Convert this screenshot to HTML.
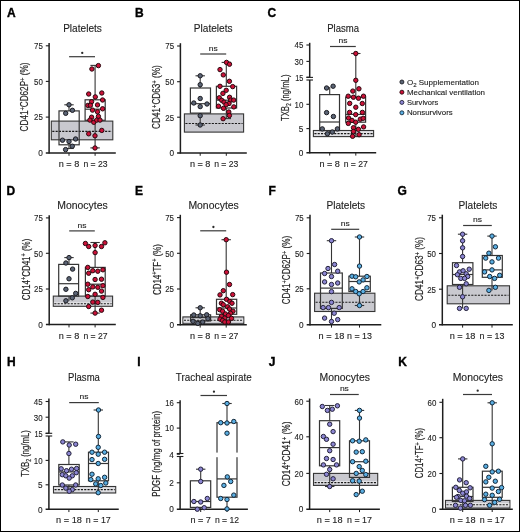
<!DOCTYPE html>
<html><head><meta charset="utf-8"><style>
html,body{margin:0;padding:0;background:#fff;}
svg{display:block;will-change:transform;}
text{font-family:"Liberation Sans", sans-serif;} .t{stroke:#1e1e1e;stroke-width:0.12px;}
</style></head><body>
<svg width="520" height="532" viewBox="0 0 520 532">
<rect x="0" y="0" width="520" height="532" fill="#fff"/>
<rect x="0.5" y="0.5" width="519" height="531" fill="none" stroke="#000" stroke-width="1"/>
<text x="7.1" y="17.2" font-size="12" text-anchor="start" font-weight="bold" fill="#000" stroke="#000" stroke-width="0.35">A</text>
<text class="t" x="82.5" y="31.9" font-size="10" text-anchor="middle" font-weight="normal" textLength="38.7" lengthAdjust="spacingAndGlyphs" fill="#1e1e1e">Platelets</text>
<rect x="51.3" y="121.1" width="61.5" height="18.700000000000017" fill="#c9c9cf" stroke="#353535" stroke-width="1.1"/>
<line x1="52.3" y1="131.4" x2="111.8" y2="131.4" stroke="#1a1a1a" stroke-width="1.1" stroke-dasharray="2.1 1.2"/>
<line x1="69.0" y1="104.8" x2="69.0" y2="110.9" stroke="#353535" stroke-width="1.1"/>
<line x1="69.0" y1="144.8" x2="69.0" y2="148.5" stroke="#353535" stroke-width="1.1"/>
<line x1="64.3" y1="104.8" x2="73.7" y2="104.8" stroke="#353535" stroke-width="1.1"/>
<line x1="64.3" y1="148.5" x2="73.7" y2="148.5" stroke="#353535" stroke-width="1.1"/>
<rect x="59.0" y="110.9" width="20.200000000000003" height="33.900000000000006" fill="none" stroke="#353535" stroke-width="1.2"/>
<line x1="95.1" y1="65.4" x2="95.1" y2="99.8" stroke="#353535" stroke-width="1.1"/>
<line x1="95.1" y1="120.3" x2="95.1" y2="147.9" stroke="#353535" stroke-width="1.1"/>
<line x1="90.39999999999999" y1="65.4" x2="99.8" y2="65.4" stroke="#353535" stroke-width="1.1"/>
<line x1="90.39999999999999" y1="147.9" x2="99.8" y2="147.9" stroke="#353535" stroke-width="1.1"/>
<rect x="85.1" y="99.8" width="20.10000000000001" height="20.5" fill="none" stroke="#353535" stroke-width="1.2"/>
<line x1="85.1" y1="109.2" x2="105.2" y2="109.2" stroke="#353535" stroke-width="1.2"/>
<line x1="49.1" y1="43" x2="49.1" y2="153.6" stroke="#1e1e1e" stroke-width="1.5"/>
<line x1="45.800000000000004" y1="153.0" x2="115.8" y2="153.0" stroke="#1e1e1e" stroke-width="1.5"/>
<line x1="45.800000000000004" y1="45.8" x2="49.1" y2="45.8" stroke="#1e1e1e" stroke-width="1.1"/>
<text class="t" x="42.800000000000004" y="49.099999999999994" font-size="9" text-anchor="end" font-weight="normal" textLength="8.8" lengthAdjust="spacingAndGlyphs" fill="#1e1e1e">75</text>
<line x1="45.800000000000004" y1="81.4" x2="49.1" y2="81.4" stroke="#1e1e1e" stroke-width="1.1"/>
<text class="t" x="42.800000000000004" y="84.7" font-size="9" text-anchor="end" font-weight="normal" textLength="8.8" lengthAdjust="spacingAndGlyphs" fill="#1e1e1e">50</text>
<line x1="45.800000000000004" y1="117.1" x2="49.1" y2="117.1" stroke="#1e1e1e" stroke-width="1.1"/>
<text class="t" x="42.800000000000004" y="120.39999999999999" font-size="9" text-anchor="end" font-weight="normal" textLength="8.8" lengthAdjust="spacingAndGlyphs" fill="#1e1e1e">25</text>
<text class="t" x="42.800000000000004" y="156.10000000000002" font-size="9" text-anchor="end" font-weight="normal" textLength="4.6" lengthAdjust="spacingAndGlyphs" fill="#1e1e1e">0</text>
<line x1="69.0" y1="153.0" x2="69.0" y2="155.8" stroke="#1e1e1e" stroke-width="1.0"/>
<line x1="95.1" y1="153.0" x2="95.1" y2="155.8" stroke="#1e1e1e" stroke-width="1.0"/>
<circle cx="69" cy="104.8" r="2.2" fill="#5b6475" stroke="#1c1c22" stroke-width="1.0"/>
<circle cx="72.4" cy="110.3" r="2.2" fill="#5b6475" stroke="#1c1c22" stroke-width="1.0"/>
<circle cx="65.7" cy="113.3" r="2.2" fill="#5b6475" stroke="#1c1c22" stroke-width="1.0"/>
<circle cx="62.5" cy="140.2" r="2.2" fill="#5b6475" stroke="#1c1c22" stroke-width="1.0"/>
<circle cx="69" cy="141.5" r="2.2" fill="#5b6475" stroke="#1c1c22" stroke-width="1.0"/>
<circle cx="75.6" cy="139" r="2.2" fill="#5b6475" stroke="#1c1c22" stroke-width="1.0"/>
<circle cx="72.3" cy="146.2" r="2.2" fill="#5b6475" stroke="#1c1c22" stroke-width="1.0"/>
<circle cx="65.6" cy="149.6" r="2.2" fill="#5b6475" stroke="#1c1c22" stroke-width="1.0"/>
<circle cx="91.9" cy="69" r="2.2" fill="#cc1138" stroke="#2a0a10" stroke-width="1.0"/>
<circle cx="98.4" cy="65.6" r="2.2" fill="#cc1138" stroke="#2a0a10" stroke-width="1.0"/>
<circle cx="88.7" cy="94" r="2.2" fill="#cc1138" stroke="#2a0a10" stroke-width="1.0"/>
<circle cx="101.8" cy="93" r="2.2" fill="#cc1138" stroke="#2a0a10" stroke-width="1.0"/>
<circle cx="95.3" cy="96.9" r="2.2" fill="#cc1138" stroke="#2a0a10" stroke-width="1.0"/>
<circle cx="102.6" cy="100" r="2.2" fill="#cc1138" stroke="#2a0a10" stroke-width="1.0"/>
<circle cx="91.6" cy="101.7" r="2.2" fill="#cc1138" stroke="#2a0a10" stroke-width="1.0"/>
<circle cx="87.9" cy="105.4" r="2.2" fill="#cc1138" stroke="#2a0a10" stroke-width="1.0"/>
<circle cx="90.4" cy="105.3" r="2.2" fill="#cc1138" stroke="#2a0a10" stroke-width="1.0"/>
<circle cx="97.5" cy="104.9" r="2.2" fill="#cc1138" stroke="#2a0a10" stroke-width="1.0"/>
<circle cx="102.6" cy="108.8" r="2.2" fill="#cc1138" stroke="#2a0a10" stroke-width="1.0"/>
<circle cx="92.5" cy="110.1" r="2.2" fill="#cc1138" stroke="#2a0a10" stroke-width="1.0"/>
<circle cx="97.5" cy="111.8" r="2.2" fill="#cc1138" stroke="#2a0a10" stroke-width="1.0"/>
<circle cx="98.4" cy="116.4" r="2.2" fill="#cc1138" stroke="#2a0a10" stroke-width="1.0"/>
<circle cx="91.6" cy="117.2" r="2.2" fill="#cc1138" stroke="#2a0a10" stroke-width="1.0"/>
<circle cx="89.9" cy="120.1" r="2.2" fill="#cc1138" stroke="#2a0a10" stroke-width="1.0"/>
<circle cx="93.8" cy="122.3" r="2.2" fill="#cc1138" stroke="#2a0a10" stroke-width="1.0"/>
<circle cx="96.7" cy="120.1" r="2.2" fill="#cc1138" stroke="#2a0a10" stroke-width="1.0"/>
<circle cx="100" cy="120.1" r="2.2" fill="#cc1138" stroke="#2a0a10" stroke-width="1.0"/>
<circle cx="101.8" cy="130.4" r="2.2" fill="#cc1138" stroke="#2a0a10" stroke-width="1.0"/>
<circle cx="88.7" cy="133.8" r="2.2" fill="#cc1138" stroke="#2a0a10" stroke-width="1.0"/>
<circle cx="95" cy="135.8" r="2.2" fill="#cc1138" stroke="#2a0a10" stroke-width="1.0"/>
<circle cx="95" cy="148" r="2.2" fill="#cc1138" stroke="#2a0a10" stroke-width="1.0"/>
<line x1="69.1" y1="56.7" x2="95" y2="56.7" stroke="#3a3a3a" stroke-width="1.2"/>
<circle cx="82.25" cy="52.900000000000006" r="1.15" fill="#2a2a2a"/>
<text x="28.0" y="97" font-size="10" text-anchor="middle" font-weight="normal" textLength="68.8" lengthAdjust="spacingAndGlyphs" transform="rotate(-90 28.0 97)" fill="#1e1e1e" stroke="#1e1e1e" stroke-width="0.18">CD41<tspan dy="-3.3" font-size="7">+</tspan><tspan dy="3.3">CD62P</tspan><tspan dy="-3.3" font-size="7">+</tspan><tspan dy="3.3"> (%)</tspan></text>
<text class="t" x="69.0" y="166.9" font-size="8.6" text-anchor="middle" font-weight="normal" textLength="20.5" lengthAdjust="spacingAndGlyphs" fill="#1e1e1e">n = 8</text>
<text class="t" x="95.5" y="166.9" font-size="8.6" text-anchor="middle" font-weight="normal" textLength="24.2" lengthAdjust="spacingAndGlyphs" fill="#1e1e1e">n = 23</text>
<text x="134.9" y="17.2" font-size="12" text-anchor="start" font-weight="bold" fill="#000" stroke="#000" stroke-width="0.35">B</text>
<text class="t" x="213.2" y="32" font-size="10" text-anchor="middle" font-weight="normal" textLength="38.7" lengthAdjust="spacingAndGlyphs" fill="#1e1e1e">Platelets</text>
<rect x="184.4" y="113.9" width="59.19999999999999" height="18.19999999999999" fill="#c9c9cf" stroke="#353535" stroke-width="1.1"/>
<line x1="185.4" y1="123.5" x2="242.6" y2="123.5" stroke="#1a1a1a" stroke-width="1.1" stroke-dasharray="2.1 1.2"/>
<line x1="200.2" y1="75.8" x2="200.2" y2="88" stroke="#353535" stroke-width="1.1"/>
<line x1="200.2" y1="113.1" x2="200.2" y2="125" stroke="#353535" stroke-width="1.1"/>
<line x1="195.5" y1="75.8" x2="204.89999999999998" y2="75.8" stroke="#353535" stroke-width="1.1"/>
<line x1="195.5" y1="125" x2="204.89999999999998" y2="125" stroke="#353535" stroke-width="1.1"/>
<rect x="190.4" y="88" width="20.099999999999994" height="25.099999999999994" fill="none" stroke="#353535" stroke-width="1.2"/>
<line x1="190.4" y1="103.7" x2="210.5" y2="103.7" stroke="#353535" stroke-width="1.2"/>
<line x1="226.3" y1="62.4" x2="226.3" y2="86.3" stroke="#353535" stroke-width="1.1"/>
<line x1="226.3" y1="108" x2="226.3" y2="118.6" stroke="#353535" stroke-width="1.1"/>
<line x1="221.60000000000002" y1="62.4" x2="231.0" y2="62.4" stroke="#353535" stroke-width="1.1"/>
<line x1="221.60000000000002" y1="118.6" x2="231.0" y2="118.6" stroke="#353535" stroke-width="1.1"/>
<rect x="216.4" y="86.3" width="20.19999999999999" height="21.700000000000003" fill="none" stroke="#353535" stroke-width="1.2"/>
<line x1="216.4" y1="100.2" x2="236.6" y2="100.2" stroke="#353535" stroke-width="1.2"/>
<line x1="180.4" y1="43.2" x2="180.4" y2="153.6" stroke="#1e1e1e" stroke-width="1.5"/>
<line x1="177.1" y1="153.0" x2="246.8" y2="153.0" stroke="#1e1e1e" stroke-width="1.5"/>
<line x1="177.1" y1="46" x2="180.4" y2="46" stroke="#1e1e1e" stroke-width="1.1"/>
<text class="t" x="174.1" y="49.3" font-size="9" text-anchor="end" font-weight="normal" textLength="8.8" lengthAdjust="spacingAndGlyphs" fill="#1e1e1e">75</text>
<line x1="177.1" y1="81.7" x2="180.4" y2="81.7" stroke="#1e1e1e" stroke-width="1.1"/>
<text class="t" x="174.1" y="85.0" font-size="9" text-anchor="end" font-weight="normal" textLength="8.8" lengthAdjust="spacingAndGlyphs" fill="#1e1e1e">50</text>
<line x1="177.1" y1="117.2" x2="180.4" y2="117.2" stroke="#1e1e1e" stroke-width="1.1"/>
<text class="t" x="174.1" y="120.5" font-size="9" text-anchor="end" font-weight="normal" textLength="8.8" lengthAdjust="spacingAndGlyphs" fill="#1e1e1e">25</text>
<text class="t" x="174.1" y="156.20000000000002" font-size="9" text-anchor="end" font-weight="normal" textLength="4.6" lengthAdjust="spacingAndGlyphs" fill="#1e1e1e">0</text>
<line x1="200.2" y1="153.0" x2="200.2" y2="155.8" stroke="#1e1e1e" stroke-width="1.0"/>
<line x1="226.3" y1="153.0" x2="226.3" y2="155.8" stroke="#1e1e1e" stroke-width="1.0"/>
<circle cx="200.2" cy="75.8" r="2.2" fill="#5b6475" stroke="#1c1c22" stroke-width="1.0"/>
<circle cx="200.2" cy="84.7" r="2.2" fill="#5b6475" stroke="#1c1c22" stroke-width="1.0"/>
<circle cx="200.2" cy="98.5" r="2.2" fill="#5b6475" stroke="#1c1c22" stroke-width="1.0"/>
<circle cx="193.8" cy="103" r="2.2" fill="#5b6475" stroke="#1c1c22" stroke-width="1.0"/>
<circle cx="200.2" cy="106.6" r="2.2" fill="#5b6475" stroke="#1c1c22" stroke-width="1.0"/>
<circle cx="207" cy="104" r="2.2" fill="#5b6475" stroke="#1c1c22" stroke-width="1.0"/>
<circle cx="200.2" cy="115.7" r="2.2" fill="#5b6475" stroke="#1c1c22" stroke-width="1.0"/>
<circle cx="200.2" cy="125" r="2.2" fill="#5b6475" stroke="#1c1c22" stroke-width="1.0"/>
<circle cx="226.5" cy="62.4" r="2.2" fill="#cc1138" stroke="#2a0a10" stroke-width="1.0"/>
<circle cx="229.5" cy="64.2" r="2.2" fill="#cc1138" stroke="#2a0a10" stroke-width="1.0"/>
<circle cx="220" cy="69.6" r="2.2" fill="#cc1138" stroke="#2a0a10" stroke-width="1.0"/>
<circle cx="223.3" cy="74.9" r="2.2" fill="#cc1138" stroke="#2a0a10" stroke-width="1.0"/>
<circle cx="229.4" cy="81.3" r="2.2" fill="#cc1138" stroke="#2a0a10" stroke-width="1.0"/>
<circle cx="220" cy="86.3" r="2.2" fill="#cc1138" stroke="#2a0a10" stroke-width="1.0"/>
<circle cx="232.7" cy="86.6" r="2.2" fill="#cc1138" stroke="#2a0a10" stroke-width="1.0"/>
<circle cx="226.2" cy="90.3" r="2.2" fill="#cc1138" stroke="#2a0a10" stroke-width="1.0"/>
<circle cx="222.9" cy="93.4" r="2.2" fill="#cc1138" stroke="#2a0a10" stroke-width="1.0"/>
<circle cx="219.3" cy="97.8" r="2.2" fill="#cc1138" stroke="#2a0a10" stroke-width="1.0"/>
<circle cx="229.6" cy="97.3" r="2.2" fill="#cc1138" stroke="#2a0a10" stroke-width="1.0"/>
<circle cx="221.7" cy="100.3" r="2.2" fill="#cc1138" stroke="#2a0a10" stroke-width="1.0"/>
<circle cx="230.7" cy="100.1" r="2.2" fill="#cc1138" stroke="#2a0a10" stroke-width="1.0"/>
<circle cx="233.7" cy="100.1" r="2.2" fill="#cc1138" stroke="#2a0a10" stroke-width="1.0"/>
<circle cx="224" cy="102.1" r="2.2" fill="#cc1138" stroke="#2a0a10" stroke-width="1.0"/>
<circle cx="229" cy="103.5" r="2.2" fill="#cc1138" stroke="#2a0a10" stroke-width="1.0"/>
<circle cx="226.1" cy="104.7" r="2.2" fill="#cc1138" stroke="#2a0a10" stroke-width="1.0"/>
<circle cx="218.5" cy="106.2" r="2.2" fill="#cc1138" stroke="#2a0a10" stroke-width="1.0"/>
<circle cx="223.5" cy="108.3" r="2.2" fill="#cc1138" stroke="#2a0a10" stroke-width="1.0"/>
<circle cx="233.8" cy="106.9" r="2.2" fill="#cc1138" stroke="#2a0a10" stroke-width="1.0"/>
<circle cx="228.8" cy="112" r="2.2" fill="#cc1138" stroke="#2a0a10" stroke-width="1.0"/>
<circle cx="229.4" cy="115.5" r="2.2" fill="#cc1138" stroke="#2a0a10" stroke-width="1.0"/>
<circle cx="223.1" cy="118.7" r="2.2" fill="#cc1138" stroke="#2a0a10" stroke-width="1.0"/>
<line x1="200.2" y1="54" x2="226.2" y2="54" stroke="#3a3a3a" stroke-width="1.2"/>
<text class="t" x="213.2" y="50.8" font-size="8" text-anchor="middle" font-weight="normal" textLength="9" lengthAdjust="spacingAndGlyphs" fill="#1e1e1e">ns</text>
<text x="160.0" y="97.1" font-size="10" text-anchor="middle" font-weight="normal" textLength="63.6" lengthAdjust="spacingAndGlyphs" transform="rotate(-90 160.0 97.1)" fill="#1e1e1e" stroke="#1e1e1e" stroke-width="0.18">CD41<tspan dy="-3.3" font-size="7">+</tspan><tspan dy="3.3">CD63</tspan><tspan dy="-3.3" font-size="7">+</tspan><tspan dy="3.3"> (%)</tspan></text>
<text class="t" x="200.2" y="166.9" font-size="8.6" text-anchor="middle" font-weight="normal" textLength="20.5" lengthAdjust="spacingAndGlyphs" fill="#1e1e1e">n = 8</text>
<text class="t" x="226.3" y="166.9" font-size="8.6" text-anchor="middle" font-weight="normal" textLength="24.2" lengthAdjust="spacingAndGlyphs" fill="#1e1e1e">n = 23</text>
<text x="267.5" y="17.2" font-size="12" text-anchor="start" font-weight="bold" fill="#000" stroke="#000" stroke-width="0.35">C</text>
<text class="t" x="343.1" y="32" font-size="10" text-anchor="middle" font-weight="normal" textLength="31.8" lengthAdjust="spacingAndGlyphs" fill="#1e1e1e">Plasma</text>
<rect x="313.4" y="130.5" width="60.200000000000045" height="6.099999999999994" fill="#c9c9cf" stroke="#353535" stroke-width="1.1"/>
<rect x="314.0" y="131.4" width="59.00000000000004" height="4.4" fill="#e3e3e6"/>
<line x1="314.4" y1="133.6" x2="372.6" y2="133.6" stroke="#1a1a1a" stroke-width="1.1" stroke-dasharray="2.1 1.2"/>
<line x1="329.7" y1="87" x2="329.7" y2="94.6" stroke="#353535" stroke-width="1.1"/>
<line x1="329.7" y1="130.6" x2="329.7" y2="134" stroke="#353535" stroke-width="1.1"/>
<rect x="319.7" y="94.6" width="19.80000000000001" height="36.0" fill="none" stroke="#353535" stroke-width="1.2"/>
<line x1="319.7" y1="122" x2="339.5" y2="122" stroke="#353535" stroke-width="1.2"/>
<line x1="355.8" y1="53.5" x2="355.8" y2="97.2" stroke="#353535" stroke-width="1.1"/>
<line x1="355.8" y1="122.2" x2="355.8" y2="136.5" stroke="#353535" stroke-width="1.1"/>
<line x1="351.1" y1="53.5" x2="360.5" y2="53.5" stroke="#353535" stroke-width="1.1"/>
<line x1="351.1" y1="136.5" x2="360.5" y2="136.5" stroke="#353535" stroke-width="1.1"/>
<rect x="345.7" y="97.2" width="19.900000000000034" height="25.0" fill="none" stroke="#353535" stroke-width="1.2"/>
<line x1="345.7" y1="114.4" x2="365.6" y2="114.4" stroke="#353535" stroke-width="1.2"/>
<line x1="309.7" y1="42.8" x2="309.7" y2="77.4" stroke="#1e1e1e" stroke-width="1.5"/>
<line x1="309.7" y1="80" x2="309.7" y2="153.4" stroke="#1e1e1e" stroke-width="1.5"/>
<line x1="306.4" y1="77.4" x2="313.0" y2="77.4" stroke="#1e1e1e" stroke-width="1.1"/>
<line x1="306.4" y1="80" x2="313.0" y2="80" stroke="#1e1e1e" stroke-width="1.1"/>
<line x1="306.4" y1="152.8" x2="376.2" y2="152.8" stroke="#1e1e1e" stroke-width="1.5"/>
<line x1="306.4" y1="45" x2="309.7" y2="45" stroke="#1e1e1e" stroke-width="1.1"/>
<text class="t" x="303.4" y="48.3" font-size="9" text-anchor="end" font-weight="normal" textLength="8.8" lengthAdjust="spacingAndGlyphs" fill="#1e1e1e">45</text>
<line x1="306.4" y1="61.4" x2="309.7" y2="61.4" stroke="#1e1e1e" stroke-width="1.1"/>
<text class="t" x="303.4" y="64.7" font-size="9" text-anchor="end" font-weight="normal" textLength="8.8" lengthAdjust="spacingAndGlyphs" fill="#1e1e1e">30</text>
<line x1="306.4" y1="77.2" x2="309.7" y2="77.2" stroke="#1e1e1e" stroke-width="1.1"/>
<text class="t" x="303.4" y="80.5" font-size="9" text-anchor="end" font-weight="normal" textLength="8.2" lengthAdjust="spacingAndGlyphs" fill="#1e1e1e">15</text>
<line x1="306.4" y1="104.3" x2="309.7" y2="104.3" stroke="#1e1e1e" stroke-width="1.1"/>
<text class="t" x="303.4" y="107.6" font-size="9" text-anchor="end" font-weight="normal" textLength="8.8" lengthAdjust="spacingAndGlyphs" fill="#1e1e1e">10</text>
<line x1="306.4" y1="128.6" x2="309.7" y2="128.6" stroke="#1e1e1e" stroke-width="1.1"/>
<text class="t" x="303.4" y="131.9" font-size="9" text-anchor="end" font-weight="normal" textLength="4.6" lengthAdjust="spacingAndGlyphs" fill="#1e1e1e">5</text>
<text class="t" x="303.4" y="156.10000000000002" font-size="9" text-anchor="end" font-weight="normal" textLength="4.6" lengthAdjust="spacingAndGlyphs" fill="#1e1e1e">0</text>
<line x1="329.7" y1="152.8" x2="329.7" y2="155.60000000000002" stroke="#1e1e1e" stroke-width="1.0"/>
<line x1="355.8" y1="152.8" x2="355.8" y2="155.60000000000002" stroke="#1e1e1e" stroke-width="1.0"/>
<circle cx="326.6" cy="88" r="2.2" fill="#5b6475" stroke="#1c1c22" stroke-width="1.0"/>
<circle cx="333.1" cy="86.2" r="2.2" fill="#5b6475" stroke="#1c1c22" stroke-width="1.0"/>
<circle cx="326.6" cy="112.6" r="2.2" fill="#5b6475" stroke="#1c1c22" stroke-width="1.0"/>
<circle cx="333.4" cy="116.5" r="2.2" fill="#5b6475" stroke="#1c1c22" stroke-width="1.0"/>
<circle cx="322.3" cy="128.9" r="2.2" fill="#5b6475" stroke="#1c1c22" stroke-width="1.0"/>
<circle cx="337.4" cy="128.9" r="2.2" fill="#5b6475" stroke="#1c1c22" stroke-width="1.0"/>
<circle cx="332.3" cy="132" r="2.2" fill="#5b6475" stroke="#1c1c22" stroke-width="1.0"/>
<circle cx="327.4" cy="133.8" r="2.2" fill="#5b6475" stroke="#1c1c22" stroke-width="1.0"/>
<circle cx="355.8" cy="53.5" r="2.2" fill="#cc1138" stroke="#2a0a10" stroke-width="1.0"/>
<circle cx="355.8" cy="80.3" r="2.2" fill="#cc1138" stroke="#2a0a10" stroke-width="1.0"/>
<circle cx="358.9" cy="88.8" r="2.2" fill="#cc1138" stroke="#2a0a10" stroke-width="1.0"/>
<circle cx="352.8" cy="91.1" r="2.2" fill="#cc1138" stroke="#2a0a10" stroke-width="1.0"/>
<circle cx="348.2" cy="96.2" r="2.2" fill="#cc1138" stroke="#2a0a10" stroke-width="1.0"/>
<circle cx="353.4" cy="97.2" r="2.2" fill="#cc1138" stroke="#2a0a10" stroke-width="1.0"/>
<circle cx="358.5" cy="98.2" r="2.2" fill="#cc1138" stroke="#2a0a10" stroke-width="1.0"/>
<circle cx="363.5" cy="96.2" r="2.2" fill="#cc1138" stroke="#2a0a10" stroke-width="1.0"/>
<circle cx="349.7" cy="103.4" r="2.2" fill="#cc1138" stroke="#2a0a10" stroke-width="1.0"/>
<circle cx="362.3" cy="103.5" r="2.2" fill="#cc1138" stroke="#2a0a10" stroke-width="1.0"/>
<circle cx="355.8" cy="107.2" r="2.2" fill="#cc1138" stroke="#2a0a10" stroke-width="1.0"/>
<circle cx="349.6" cy="112.4" r="2.2" fill="#cc1138" stroke="#2a0a10" stroke-width="1.0"/>
<circle cx="355.7" cy="114.6" r="2.2" fill="#cc1138" stroke="#2a0a10" stroke-width="1.0"/>
<circle cx="362.4" cy="112.4" r="2.2" fill="#cc1138" stroke="#2a0a10" stroke-width="1.0"/>
<circle cx="348.6" cy="118" r="2.2" fill="#cc1138" stroke="#2a0a10" stroke-width="1.0"/>
<circle cx="352" cy="120.4" r="2.2" fill="#cc1138" stroke="#2a0a10" stroke-width="1.0"/>
<circle cx="355.7" cy="122.2" r="2.2" fill="#cc1138" stroke="#2a0a10" stroke-width="1.0"/>
<circle cx="360.3" cy="119.2" r="2.2" fill="#cc1138" stroke="#2a0a10" stroke-width="1.0"/>
<circle cx="363.2" cy="118.3" r="2.2" fill="#cc1138" stroke="#2a0a10" stroke-width="1.0"/>
<circle cx="348.3" cy="123.4" r="2.2" fill="#cc1138" stroke="#2a0a10" stroke-width="1.0"/>
<circle cx="353.5" cy="127.7" r="2.2" fill="#cc1138" stroke="#2a0a10" stroke-width="1.0"/>
<circle cx="358.4" cy="129.3" r="2.2" fill="#cc1138" stroke="#2a0a10" stroke-width="1.0"/>
<circle cx="363.6" cy="126.9" r="2.2" fill="#cc1138" stroke="#2a0a10" stroke-width="1.0"/>
<circle cx="352.6" cy="136.3" r="2.2" fill="#cc1138" stroke="#2a0a10" stroke-width="1.0"/>
<circle cx="359.1" cy="134.7" r="2.2" fill="#cc1138" stroke="#2a0a10" stroke-width="1.0"/>
<circle cx="353.4" cy="131.5" r="2.2" fill="#cc1138" stroke="#2a0a10" stroke-width="1.0"/>
<line x1="330" y1="46.5" x2="355.8" y2="46.5" stroke="#3a3a3a" stroke-width="1.2"/>
<text class="t" x="342.9" y="43.3" font-size="8" text-anchor="middle" font-weight="normal" textLength="9" lengthAdjust="spacingAndGlyphs" fill="#1e1e1e">ns</text>
<text x="288.6" y="97.8" font-size="10" text-anchor="middle" font-weight="normal" textLength="46.5" lengthAdjust="spacingAndGlyphs" transform="rotate(-90 288.6 97.8)" fill="#1e1e1e" stroke="#1e1e1e" stroke-width="0.18">TXB<tspan dy="2.5" font-size="6.5">2</tspan><tspan dy="-2.5"> (ng/mL)</tspan></text>
<text class="t" x="329.7" y="166.9" font-size="8.6" text-anchor="middle" font-weight="normal" textLength="20.5" lengthAdjust="spacingAndGlyphs" fill="#1e1e1e">n = 8</text>
<text class="t" x="355.8" y="166.9" font-size="8.6" text-anchor="middle" font-weight="normal" textLength="24.2" lengthAdjust="spacingAndGlyphs" fill="#1e1e1e">n = 27</text>
<text x="6.45" y="194.7" font-size="12" text-anchor="start" font-weight="bold" fill="#000" stroke="#000" stroke-width="0.35">D</text>
<text class="t" x="82.5" y="209.1" font-size="10" text-anchor="middle" font-weight="normal" textLength="50.4" lengthAdjust="spacingAndGlyphs" fill="#1e1e1e">Monocytes</text>
<rect x="53.3" y="296.1" width="59.3" height="10.199999999999989" fill="#c9c9cf" stroke="#353535" stroke-width="1.1"/>
<rect x="53.9" y="302.2" width="58.099999999999994" height="3.0" fill="#e3e3e6"/>
<line x1="54.3" y1="303.7" x2="111.6" y2="303.7" stroke="#1a1a1a" stroke-width="1.1" stroke-dasharray="2.1 1.2"/>
<line x1="69.0" y1="257.6" x2="69.0" y2="264.4" stroke="#353535" stroke-width="1.1"/>
<line x1="69.0" y1="296.1" x2="69.0" y2="300.8" stroke="#353535" stroke-width="1.1"/>
<line x1="64.3" y1="257.6" x2="73.7" y2="257.6" stroke="#353535" stroke-width="1.1"/>
<rect x="58.7" y="264.4" width="19.89999999999999" height="31.700000000000045" fill="none" stroke="#353535" stroke-width="1.2"/>
<line x1="58.7" y1="283.7" x2="78.6" y2="283.7" stroke="#353535" stroke-width="1.2"/>
<line x1="95.1" y1="242.5" x2="95.1" y2="267.4" stroke="#353535" stroke-width="1.1"/>
<line x1="95.1" y1="296.1" x2="95.1" y2="313.1" stroke="#353535" stroke-width="1.1"/>
<line x1="90.39999999999999" y1="242.5" x2="99.8" y2="242.5" stroke="#353535" stroke-width="1.1"/>
<line x1="90.39999999999999" y1="313.1" x2="99.8" y2="313.1" stroke="#353535" stroke-width="1.1"/>
<rect x="85.4" y="267.4" width="19.799999999999997" height="28.700000000000045" fill="none" stroke="#353535" stroke-width="1.2"/>
<line x1="85.4" y1="284.2" x2="105.2" y2="284.2" stroke="#353535" stroke-width="1.2"/>
<line x1="49.2" y1="215.2" x2="49.2" y2="325.20000000000005" stroke="#1e1e1e" stroke-width="1.5"/>
<line x1="45.900000000000006" y1="324.6" x2="115.8" y2="324.6" stroke="#1e1e1e" stroke-width="1.5"/>
<line x1="45.900000000000006" y1="217.9" x2="49.2" y2="217.9" stroke="#1e1e1e" stroke-width="1.1"/>
<text class="t" x="42.900000000000006" y="221.20000000000002" font-size="9" text-anchor="end" font-weight="normal" textLength="8.8" lengthAdjust="spacingAndGlyphs" fill="#1e1e1e">75</text>
<line x1="45.900000000000006" y1="253.3" x2="49.2" y2="253.3" stroke="#1e1e1e" stroke-width="1.1"/>
<text class="t" x="42.900000000000006" y="256.6" font-size="9" text-anchor="end" font-weight="normal" textLength="8.8" lengthAdjust="spacingAndGlyphs" fill="#1e1e1e">50</text>
<line x1="45.900000000000006" y1="289.0" x2="49.2" y2="289.0" stroke="#1e1e1e" stroke-width="1.1"/>
<text class="t" x="42.900000000000006" y="292.3" font-size="9" text-anchor="end" font-weight="normal" textLength="8.8" lengthAdjust="spacingAndGlyphs" fill="#1e1e1e">25</text>
<text class="t" x="42.900000000000006" y="327.90000000000003" font-size="9" text-anchor="end" font-weight="normal" textLength="4.6" lengthAdjust="spacingAndGlyphs" fill="#1e1e1e">0</text>
<line x1="69.0" y1="324.6" x2="69.0" y2="327.40000000000003" stroke="#1e1e1e" stroke-width="1.0"/>
<line x1="95.1" y1="324.6" x2="95.1" y2="327.40000000000003" stroke="#1e1e1e" stroke-width="1.0"/>
<circle cx="69" cy="257.6" r="2.2" fill="#5b6475" stroke="#1c1c22" stroke-width="1.0"/>
<circle cx="65.9" cy="263" r="2.2" fill="#5b6475" stroke="#1c1c22" stroke-width="1.0"/>
<circle cx="72.6" cy="269.1" r="2.2" fill="#5b6475" stroke="#1c1c22" stroke-width="1.0"/>
<circle cx="69" cy="278.8" r="2.2" fill="#5b6475" stroke="#1c1c22" stroke-width="1.0"/>
<circle cx="65.9" cy="289.3" r="2.2" fill="#5b6475" stroke="#1c1c22" stroke-width="1.0"/>
<circle cx="75.7" cy="293.4" r="2.2" fill="#5b6475" stroke="#1c1c22" stroke-width="1.0"/>
<circle cx="72.3" cy="297.8" r="2.2" fill="#5b6475" stroke="#1c1c22" stroke-width="1.0"/>
<circle cx="65.9" cy="300.8" r="2.2" fill="#5b6475" stroke="#1c1c22" stroke-width="1.0"/>
<circle cx="85.4" cy="243.5" r="2.2" fill="#cc1138" stroke="#2a0a10" stroke-width="1.0"/>
<circle cx="88.7" cy="246.5" r="2.2" fill="#cc1138" stroke="#2a0a10" stroke-width="1.0"/>
<circle cx="95.1" cy="245.5" r="2.2" fill="#cc1138" stroke="#2a0a10" stroke-width="1.0"/>
<circle cx="101.5" cy="246.5" r="2.2" fill="#cc1138" stroke="#2a0a10" stroke-width="1.0"/>
<circle cx="104.9" cy="242.8" r="2.2" fill="#cc1138" stroke="#2a0a10" stroke-width="1.0"/>
<circle cx="95.1" cy="252.6" r="2.2" fill="#cc1138" stroke="#2a0a10" stroke-width="1.0"/>
<circle cx="87.8" cy="267.4" r="2.2" fill="#cc1138" stroke="#2a0a10" stroke-width="1.0"/>
<circle cx="88.7" cy="273.2" r="2.2" fill="#cc1138" stroke="#2a0a10" stroke-width="1.0"/>
<circle cx="92.8" cy="270.7" r="2.2" fill="#cc1138" stroke="#2a0a10" stroke-width="1.0"/>
<circle cx="97.8" cy="271.2" r="2.2" fill="#cc1138" stroke="#2a0a10" stroke-width="1.0"/>
<circle cx="102.9" cy="269.8" r="2.2" fill="#cc1138" stroke="#2a0a10" stroke-width="1.0"/>
<circle cx="95.1" cy="279.5" r="2.2" fill="#cc1138" stroke="#2a0a10" stroke-width="1.0"/>
<circle cx="101.5" cy="279.2" r="2.2" fill="#cc1138" stroke="#2a0a10" stroke-width="1.0"/>
<circle cx="87.8" cy="284.2" r="2.2" fill="#cc1138" stroke="#2a0a10" stroke-width="1.0"/>
<circle cx="92.8" cy="286.9" r="2.2" fill="#cc1138" stroke="#2a0a10" stroke-width="1.0"/>
<circle cx="97.8" cy="287.3" r="2.2" fill="#cc1138" stroke="#2a0a10" stroke-width="1.0"/>
<circle cx="102.9" cy="285.7" r="2.2" fill="#cc1138" stroke="#2a0a10" stroke-width="1.0"/>
<circle cx="88.7" cy="289.7" r="2.2" fill="#cc1138" stroke="#2a0a10" stroke-width="1.0"/>
<circle cx="101.5" cy="291.1" r="2.2" fill="#cc1138" stroke="#2a0a10" stroke-width="1.0"/>
<circle cx="95.1" cy="294.3" r="2.2" fill="#cc1138" stroke="#2a0a10" stroke-width="1.0"/>
<circle cx="87.8" cy="296.5" r="2.2" fill="#cc1138" stroke="#2a0a10" stroke-width="1.0"/>
<circle cx="102.9" cy="297.4" r="2.2" fill="#cc1138" stroke="#2a0a10" stroke-width="1.0"/>
<circle cx="92.8" cy="302.1" r="2.2" fill="#cc1138" stroke="#2a0a10" stroke-width="1.0"/>
<circle cx="97.8" cy="302.4" r="2.2" fill="#cc1138" stroke="#2a0a10" stroke-width="1.0"/>
<circle cx="88.7" cy="306.5" r="2.2" fill="#cc1138" stroke="#2a0a10" stroke-width="1.0"/>
<circle cx="101.5" cy="310.2" r="2.2" fill="#cc1138" stroke="#2a0a10" stroke-width="1.0"/>
<circle cx="95.1" cy="313.1" r="2.2" fill="#cc1138" stroke="#2a0a10" stroke-width="1.0"/>
<line x1="69.2" y1="230.9" x2="94.8" y2="230.9" stroke="#3a3a3a" stroke-width="1.2"/>
<text class="t" x="82.0" y="227.70000000000002" font-size="8" text-anchor="middle" font-weight="normal" textLength="9" lengthAdjust="spacingAndGlyphs" fill="#1e1e1e">ns</text>
<text x="29.7" y="269.5" font-size="10" text-anchor="middle" font-weight="normal" textLength="61.7" lengthAdjust="spacingAndGlyphs" transform="rotate(-90 29.7 269.5)" fill="#1e1e1e" stroke="#1e1e1e" stroke-width="0.18">CD14<tspan dy="-3.3" font-size="7">+</tspan><tspan dy="3.3">CD41</tspan><tspan dy="-3.3" font-size="7">+</tspan><tspan dy="3.3"> (%)</tspan></text>
<text class="t" x="69.0" y="338.8" font-size="8.6" text-anchor="middle" font-weight="normal" textLength="20.5" lengthAdjust="spacingAndGlyphs" fill="#1e1e1e">n = 8</text>
<text class="t" x="95.5" y="338.8" font-size="8.6" text-anchor="middle" font-weight="normal" textLength="24.2" lengthAdjust="spacingAndGlyphs" fill="#1e1e1e">n = 27</text>
<text x="135.0" y="194.7" font-size="12" text-anchor="start" font-weight="bold" fill="#000" stroke="#000" stroke-width="0.35">E</text>
<text class="t" x="213.6" y="209.1" font-size="10" text-anchor="middle" font-weight="normal" textLength="50.4" lengthAdjust="spacingAndGlyphs" fill="#1e1e1e">Monocytes</text>
<rect x="182.9" y="316.9" width="60.900000000000006" height="6.900000000000034" fill="#c9c9cf" stroke="#353535" stroke-width="1.1"/>
<rect x="183.5" y="318.59999999999997" width="59.7" height="3.2" fill="#e3e3e6"/>
<line x1="183.9" y1="320.2" x2="242.8" y2="320.2" stroke="#1a1a1a" stroke-width="1.1" stroke-dasharray="2.1 1.2"/>
<line x1="200.2" y1="307.8" x2="200.2" y2="314.8" stroke="#353535" stroke-width="1.1"/>
<line x1="200.2" y1="321.0" x2="200.2" y2="322.5" stroke="#353535" stroke-width="1.1"/>
<line x1="195.5" y1="307.8" x2="204.89999999999998" y2="307.8" stroke="#353535" stroke-width="1.1"/>
<rect x="190.6" y="314.8" width="20.0" height="6.199999999999989" fill="none" stroke="#353535" stroke-width="1.2"/>
<line x1="190.6" y1="317.6" x2="210.6" y2="317.6" stroke="#353535" stroke-width="1.2"/>
<line x1="226.2" y1="239.7" x2="226.2" y2="299.3" stroke="#353535" stroke-width="1.1"/>
<line x1="226.2" y1="314.3" x2="226.2" y2="322" stroke="#353535" stroke-width="1.1"/>
<line x1="221.5" y1="239.7" x2="230.89999999999998" y2="239.7" stroke="#353535" stroke-width="1.1"/>
<rect x="216.5" y="299.3" width="20.19999999999999" height="15.0" fill="none" stroke="#353535" stroke-width="1.2"/>
<line x1="216.5" y1="308.0" x2="236.7" y2="308.0" stroke="#353535" stroke-width="1.2"/>
<line x1="180.3" y1="214.8" x2="180.3" y2="325.40000000000003" stroke="#1e1e1e" stroke-width="1.5"/>
<line x1="177.0" y1="324.8" x2="246.8" y2="324.8" stroke="#1e1e1e" stroke-width="1.5"/>
<line x1="177.0" y1="217.6" x2="180.3" y2="217.6" stroke="#1e1e1e" stroke-width="1.1"/>
<text class="t" x="174.0" y="220.9" font-size="9" text-anchor="end" font-weight="normal" textLength="8.8" lengthAdjust="spacingAndGlyphs" fill="#1e1e1e">75</text>
<line x1="177.0" y1="253.3" x2="180.3" y2="253.3" stroke="#1e1e1e" stroke-width="1.1"/>
<text class="t" x="174.0" y="256.6" font-size="9" text-anchor="end" font-weight="normal" textLength="8.8" lengthAdjust="spacingAndGlyphs" fill="#1e1e1e">50</text>
<line x1="177.0" y1="289.0" x2="180.3" y2="289.0" stroke="#1e1e1e" stroke-width="1.1"/>
<text class="t" x="174.0" y="292.3" font-size="9" text-anchor="end" font-weight="normal" textLength="8.8" lengthAdjust="spacingAndGlyphs" fill="#1e1e1e">25</text>
<text class="t" x="174.0" y="327.6" font-size="9" text-anchor="end" font-weight="normal" textLength="4.6" lengthAdjust="spacingAndGlyphs" fill="#1e1e1e">0</text>
<line x1="200.2" y1="324.8" x2="200.2" y2="327.6" stroke="#1e1e1e" stroke-width="1.0"/>
<line x1="226.2" y1="324.8" x2="226.2" y2="327.6" stroke="#1e1e1e" stroke-width="1.0"/>
<circle cx="200.2" cy="307.8" r="2.2" fill="#5b6475" stroke="#1c1c22" stroke-width="1.0"/>
<circle cx="193.8" cy="315" r="2.2" fill="#5b6475" stroke="#1c1c22" stroke-width="1.0"/>
<circle cx="200.2" cy="315.8" r="2.2" fill="#5b6475" stroke="#1c1c22" stroke-width="1.0"/>
<circle cx="206.7" cy="314.8" r="2.2" fill="#5b6475" stroke="#1c1c22" stroke-width="1.0"/>
<circle cx="207.9" cy="318.7" r="2.2" fill="#5b6475" stroke="#1c1c22" stroke-width="1.0"/>
<circle cx="193" cy="321.3" r="2.2" fill="#5b6475" stroke="#1c1c22" stroke-width="1.0"/>
<circle cx="197.8" cy="323.4" r="2.2" fill="#5b6475" stroke="#1c1c22" stroke-width="1.0"/>
<circle cx="202.7" cy="322" r="2.2" fill="#5b6475" stroke="#1c1c22" stroke-width="1.0"/>
<circle cx="226.2" cy="239.7" r="2.2" fill="#cc1138" stroke="#2a0a10" stroke-width="1.0"/>
<circle cx="226.5" cy="272.2" r="2.2" fill="#cc1138" stroke="#2a0a10" stroke-width="1.0"/>
<circle cx="229.5" cy="284.5" r="2.2" fill="#cc1138" stroke="#2a0a10" stroke-width="1.0"/>
<circle cx="223.3" cy="290.7" r="2.2" fill="#cc1138" stroke="#2a0a10" stroke-width="1.0"/>
<circle cx="220" cy="294.9" r="2.2" fill="#cc1138" stroke="#2a0a10" stroke-width="1.0"/>
<circle cx="232.7" cy="294.6" r="2.2" fill="#cc1138" stroke="#2a0a10" stroke-width="1.0"/>
<circle cx="226.5" cy="299.3" r="2.2" fill="#cc1138" stroke="#2a0a10" stroke-width="1.0"/>
<circle cx="221.4" cy="303.2" r="2.2" fill="#cc1138" stroke="#2a0a10" stroke-width="1.0"/>
<circle cx="229.8" cy="301.5" r="2.2" fill="#cc1138" stroke="#2a0a10" stroke-width="1.0"/>
<circle cx="232" cy="303.2" r="2.2" fill="#cc1138" stroke="#2a0a10" stroke-width="1.0"/>
<circle cx="223.3" cy="304.7" r="2.2" fill="#cc1138" stroke="#2a0a10" stroke-width="1.0"/>
<circle cx="227.6" cy="306.8" r="2.2" fill="#cc1138" stroke="#2a0a10" stroke-width="1.0"/>
<circle cx="219.7" cy="309.7" r="2.2" fill="#cc1138" stroke="#2a0a10" stroke-width="1.0"/>
<circle cx="222.6" cy="311.2" r="2.2" fill="#cc1138" stroke="#2a0a10" stroke-width="1.0"/>
<circle cx="229.5" cy="309" r="2.2" fill="#cc1138" stroke="#2a0a10" stroke-width="1.0"/>
<circle cx="233" cy="311.2" r="2.2" fill="#cc1138" stroke="#2a0a10" stroke-width="1.0"/>
<circle cx="225.5" cy="314" r="2.2" fill="#cc1138" stroke="#2a0a10" stroke-width="1.0"/>
<circle cx="230.5" cy="313.3" r="2.2" fill="#cc1138" stroke="#2a0a10" stroke-width="1.0"/>
<circle cx="221.4" cy="316.2" r="2.2" fill="#cc1138" stroke="#2a0a10" stroke-width="1.0"/>
<circle cx="228.4" cy="315.5" r="2.2" fill="#cc1138" stroke="#2a0a10" stroke-width="1.0"/>
<circle cx="220" cy="319.1" r="2.2" fill="#cc1138" stroke="#2a0a10" stroke-width="1.0"/>
<circle cx="224.8" cy="318.1" r="2.2" fill="#cc1138" stroke="#2a0a10" stroke-width="1.0"/>
<circle cx="231.5" cy="318.4" r="2.2" fill="#cc1138" stroke="#2a0a10" stroke-width="1.0"/>
<circle cx="222.6" cy="320.5" r="2.2" fill="#cc1138" stroke="#2a0a10" stroke-width="1.0"/>
<circle cx="224.8" cy="322" r="2.2" fill="#cc1138" stroke="#2a0a10" stroke-width="1.0"/>
<circle cx="228.4" cy="322" r="2.2" fill="#cc1138" stroke="#2a0a10" stroke-width="1.0"/>
<line x1="200.2" y1="230.8" x2="226.2" y2="230.8" stroke="#3a3a3a" stroke-width="1.2"/>
<circle cx="213.39999999999998" cy="227.0" r="1.15" fill="#2a2a2a"/>
<text x="160.6" y="269.5" font-size="10" text-anchor="middle" font-weight="normal" textLength="50.9" lengthAdjust="spacingAndGlyphs" transform="rotate(-90 160.6 269.5)" fill="#1e1e1e" stroke="#1e1e1e" stroke-width="0.18">CD14<tspan dy="-3.3" font-size="7">+</tspan><tspan dy="3.3">TF</tspan><tspan dy="-3.3" font-size="7">+</tspan><tspan dy="3.3"> (%)</tspan></text>
<text class="t" x="200.2" y="338.8" font-size="8.6" text-anchor="middle" font-weight="normal" textLength="20.5" lengthAdjust="spacingAndGlyphs" fill="#1e1e1e">n = 8</text>
<text class="t" x="226.3" y="338.8" font-size="8.6" text-anchor="middle" font-weight="normal" textLength="24.2" lengthAdjust="spacingAndGlyphs" fill="#1e1e1e">n = 27</text>
<text x="268.6" y="194.7" font-size="12" text-anchor="start" font-weight="bold" fill="#000" stroke="#000" stroke-width="0.35">F</text>
<text class="t" x="345.8" y="208.8" font-size="10" text-anchor="middle" font-weight="normal" textLength="38.7" lengthAdjust="spacingAndGlyphs" fill="#1e1e1e">Platelets</text>
<rect x="314.6" y="293.2" width="60.299999999999955" height="18.30000000000001" fill="#c9c9cf" stroke="#353535" stroke-width="1.1"/>
<line x1="315.6" y1="302.2" x2="373.9" y2="302.2" stroke="#1a1a1a" stroke-width="1.1" stroke-dasharray="2.1 1.2"/>
<line x1="331.5" y1="240.7" x2="331.5" y2="273.0" stroke="#353535" stroke-width="1.1"/>
<line x1="331.5" y1="308.4" x2="331.5" y2="321.2" stroke="#353535" stroke-width="1.1"/>
<line x1="326.8" y1="240.7" x2="336.2" y2="240.7" stroke="#353535" stroke-width="1.1"/>
<rect x="320.5" y="273.0" width="21.80000000000001" height="35.39999999999998" fill="none" stroke="#353535" stroke-width="1.2"/>
<line x1="320.5" y1="288.1" x2="342.3" y2="288.1" stroke="#353535" stroke-width="1.2"/>
<line x1="359.5" y1="237.0" x2="359.5" y2="276.2" stroke="#353535" stroke-width="1.1"/>
<line x1="359.5" y1="291.5" x2="359.5" y2="305.5" stroke="#353535" stroke-width="1.1"/>
<line x1="354.8" y1="237.0" x2="364.2" y2="237.0" stroke="#353535" stroke-width="1.1"/>
<line x1="354.8" y1="305.5" x2="364.2" y2="305.5" stroke="#353535" stroke-width="1.1"/>
<rect x="348.9" y="276.2" width="21.400000000000034" height="15.300000000000011" fill="none" stroke="#353535" stroke-width="1.2"/>
<line x1="348.9" y1="281.5" x2="370.3" y2="281.5" stroke="#353535" stroke-width="1.2"/>
<line x1="310.0" y1="214.7" x2="310.0" y2="325.40000000000003" stroke="#1e1e1e" stroke-width="1.5"/>
<line x1="306.7" y1="324.8" x2="381.3" y2="324.8" stroke="#1e1e1e" stroke-width="1.5"/>
<line x1="306.7" y1="217.8" x2="310.0" y2="217.8" stroke="#1e1e1e" stroke-width="1.1"/>
<text class="t" x="303.7" y="221.10000000000002" font-size="9" text-anchor="end" font-weight="normal" textLength="8.8" lengthAdjust="spacingAndGlyphs" fill="#1e1e1e">75</text>
<line x1="306.7" y1="253.5" x2="310.0" y2="253.5" stroke="#1e1e1e" stroke-width="1.1"/>
<text class="t" x="303.7" y="256.8" font-size="9" text-anchor="end" font-weight="normal" textLength="8.8" lengthAdjust="spacingAndGlyphs" fill="#1e1e1e">50</text>
<line x1="306.7" y1="288.8" x2="310.0" y2="288.8" stroke="#1e1e1e" stroke-width="1.1"/>
<text class="t" x="303.7" y="292.1" font-size="9" text-anchor="end" font-weight="normal" textLength="8.8" lengthAdjust="spacingAndGlyphs" fill="#1e1e1e">25</text>
<text class="t" x="303.7" y="327.8" font-size="9" text-anchor="end" font-weight="normal" textLength="4.6" lengthAdjust="spacingAndGlyphs" fill="#1e1e1e">0</text>
<line x1="331.5" y1="324.8" x2="331.5" y2="327.6" stroke="#1e1e1e" stroke-width="1.0"/>
<line x1="359.5" y1="324.8" x2="359.5" y2="327.6" stroke="#1e1e1e" stroke-width="1.0"/>
<circle cx="331.5" cy="240.7" r="2.2" fill="#8c86d2" stroke="#24223a" stroke-width="1.0"/>
<circle cx="334.6" cy="264.5" r="2.2" fill="#8c86d2" stroke="#24223a" stroke-width="1.0"/>
<circle cx="328" cy="268.5" r="2.2" fill="#8c86d2" stroke="#24223a" stroke-width="1.0"/>
<circle cx="337.7" cy="271.2" r="2.2" fill="#8c86d2" stroke="#24223a" stroke-width="1.0"/>
<circle cx="324.6" cy="273.5" r="2.2" fill="#8c86d2" stroke="#24223a" stroke-width="1.0"/>
<circle cx="331.5" cy="276.5" r="2.2" fill="#8c86d2" stroke="#24223a" stroke-width="1.0"/>
<circle cx="324.6" cy="281.9" r="2.2" fill="#8c86d2" stroke="#24223a" stroke-width="1.0"/>
<circle cx="331.5" cy="284.5" r="2.2" fill="#8c86d2" stroke="#24223a" stroke-width="1.0"/>
<circle cx="337.7" cy="283" r="2.2" fill="#8c86d2" stroke="#24223a" stroke-width="1.0"/>
<circle cx="331.5" cy="291.6" r="2.2" fill="#8c86d2" stroke="#24223a" stroke-width="1.0"/>
<circle cx="331.5" cy="302.4" r="2.2" fill="#8c86d2" stroke="#24223a" stroke-width="1.0"/>
<circle cx="323.1" cy="307.6" r="2.2" fill="#8c86d2" stroke="#24223a" stroke-width="1.0"/>
<circle cx="328.5" cy="307.6" r="2.2" fill="#8c86d2" stroke="#24223a" stroke-width="1.0"/>
<circle cx="339.2" cy="307.6" r="2.2" fill="#8c86d2" stroke="#24223a" stroke-width="1.0"/>
<circle cx="334.2" cy="313.2" r="2.2" fill="#8c86d2" stroke="#24223a" stroke-width="1.0"/>
<circle cx="324.6" cy="318.1" r="2.2" fill="#8c86d2" stroke="#24223a" stroke-width="1.0"/>
<circle cx="337.7" cy="319.6" r="2.2" fill="#8c86d2" stroke="#24223a" stroke-width="1.0"/>
<circle cx="331.5" cy="321.5" r="2.2" fill="#8c86d2" stroke="#24223a" stroke-width="1.0"/>
<circle cx="359.5" cy="237" r="2.2" fill="#5aaee2" stroke="#12283a" stroke-width="1.0"/>
<circle cx="359.5" cy="266.1" r="2.2" fill="#5aaee2" stroke="#12283a" stroke-width="1.0"/>
<circle cx="352" cy="276.2" r="2.2" fill="#5aaee2" stroke="#12283a" stroke-width="1.0"/>
<circle cx="355.7" cy="276.8" r="2.2" fill="#5aaee2" stroke="#12283a" stroke-width="1.0"/>
<circle cx="366.9" cy="276.5" r="2.2" fill="#5aaee2" stroke="#12283a" stroke-width="1.0"/>
<circle cx="359.2" cy="281.9" r="2.2" fill="#5aaee2" stroke="#12283a" stroke-width="1.0"/>
<circle cx="363.1" cy="279.9" r="2.2" fill="#5aaee2" stroke="#12283a" stroke-width="1.0"/>
<circle cx="352" cy="288.8" r="2.2" fill="#5aaee2" stroke="#12283a" stroke-width="1.0"/>
<circle cx="355.7" cy="291.5" r="2.2" fill="#5aaee2" stroke="#12283a" stroke-width="1.0"/>
<circle cx="359.2" cy="293.8" r="2.2" fill="#5aaee2" stroke="#12283a" stroke-width="1.0"/>
<circle cx="363.1" cy="291.5" r="2.2" fill="#5aaee2" stroke="#12283a" stroke-width="1.0"/>
<circle cx="366.9" cy="287.8" r="2.2" fill="#5aaee2" stroke="#12283a" stroke-width="1.0"/>
<circle cx="359.5" cy="305.5" r="2.2" fill="#5aaee2" stroke="#12283a" stroke-width="1.0"/>
<line x1="331.2" y1="229.3" x2="359.2" y2="229.3" stroke="#3a3a3a" stroke-width="1.2"/>
<text class="t" x="345.2" y="226.10000000000002" font-size="8" text-anchor="middle" font-weight="normal" textLength="9" lengthAdjust="spacingAndGlyphs" fill="#1e1e1e">ns</text>
<text x="290.0" y="270.0" font-size="10" text-anchor="middle" font-weight="normal" textLength="68.5" lengthAdjust="spacingAndGlyphs" transform="rotate(-90 290.0 270.0)" fill="#1e1e1e" stroke="#1e1e1e" stroke-width="0.18">CD41<tspan dy="-3.3" font-size="7">+</tspan><tspan dy="3.3">CD62P</tspan><tspan dy="-3.3" font-size="7">+</tspan><tspan dy="3.3"> (%)</tspan></text>
<text class="t" x="331.5" y="338.8" font-size="8.6" text-anchor="middle" font-weight="normal" textLength="25.8" lengthAdjust="spacingAndGlyphs" fill="#1e1e1e">n = 18</text>
<text class="t" x="359.5" y="338.8" font-size="8.6" text-anchor="middle" font-weight="normal" textLength="24.9" lengthAdjust="spacingAndGlyphs" fill="#1e1e1e">n = 13</text>
<text x="397.4" y="194.7" font-size="12" text-anchor="start" font-weight="bold" fill="#000" stroke="#000" stroke-width="0.35">G</text>
<text class="t" x="477.9" y="208.8" font-size="10" text-anchor="middle" font-weight="normal" textLength="38.7" lengthAdjust="spacingAndGlyphs" fill="#1e1e1e">Platelets</text>
<rect x="447.2" y="285.8" width="62.30000000000001" height="18.0" fill="#c9c9cf" stroke="#353535" stroke-width="1.1"/>
<line x1="448.2" y1="295.3" x2="508.5" y2="295.3" stroke="#1a1a1a" stroke-width="1.1" stroke-dasharray="2.1 1.2"/>
<line x1="462.6" y1="234.2" x2="462.6" y2="262.7" stroke="#353535" stroke-width="1.1"/>
<line x1="462.6" y1="284.5" x2="462.6" y2="308.4" stroke="#353535" stroke-width="1.1"/>
<line x1="457.90000000000003" y1="234.2" x2="467.3" y2="234.2" stroke="#353535" stroke-width="1.1"/>
<rect x="452.5" y="262.7" width="20.399999999999977" height="21.80000000000001" fill="none" stroke="#353535" stroke-width="1.2"/>
<line x1="452.5" y1="274.5" x2="472.9" y2="274.5" stroke="#353535" stroke-width="1.2"/>
<line x1="492.0" y1="236.1" x2="492.0" y2="255.5" stroke="#353535" stroke-width="1.1"/>
<line x1="492.0" y1="277.3" x2="492.0" y2="290.4" stroke="#353535" stroke-width="1.1"/>
<line x1="487.3" y1="236.1" x2="496.7" y2="236.1" stroke="#353535" stroke-width="1.1"/>
<rect x="482.3" y="255.5" width="20.0" height="21.80000000000001" fill="none" stroke="#353535" stroke-width="1.2"/>
<line x1="482.3" y1="269.9" x2="502.3" y2="269.9" stroke="#353535" stroke-width="1.2"/>
<line x1="442.3" y1="214.7" x2="442.3" y2="325.40000000000003" stroke="#1e1e1e" stroke-width="1.5"/>
<line x1="439.0" y1="324.8" x2="512.8" y2="324.8" stroke="#1e1e1e" stroke-width="1.5"/>
<line x1="439.0" y1="217.8" x2="442.3" y2="217.8" stroke="#1e1e1e" stroke-width="1.1"/>
<text class="t" x="436.0" y="221.10000000000002" font-size="9" text-anchor="end" font-weight="normal" textLength="8.8" lengthAdjust="spacingAndGlyphs" fill="#1e1e1e">75</text>
<line x1="439.0" y1="253.5" x2="442.3" y2="253.5" stroke="#1e1e1e" stroke-width="1.1"/>
<text class="t" x="436.0" y="256.8" font-size="9" text-anchor="end" font-weight="normal" textLength="8.8" lengthAdjust="spacingAndGlyphs" fill="#1e1e1e">50</text>
<line x1="439.0" y1="289.2" x2="442.3" y2="289.2" stroke="#1e1e1e" stroke-width="1.1"/>
<text class="t" x="436.0" y="292.5" font-size="9" text-anchor="end" font-weight="normal" textLength="8.8" lengthAdjust="spacingAndGlyphs" fill="#1e1e1e">25</text>
<text class="t" x="436.0" y="327.8" font-size="9" text-anchor="end" font-weight="normal" textLength="4.6" lengthAdjust="spacingAndGlyphs" fill="#1e1e1e">0</text>
<line x1="462.6" y1="324.8" x2="462.6" y2="327.6" stroke="#1e1e1e" stroke-width="1.0"/>
<line x1="492.0" y1="324.8" x2="492.0" y2="327.6" stroke="#1e1e1e" stroke-width="1.0"/>
<circle cx="462.6" cy="234.2" r="2.2" fill="#8c86d2" stroke="#24223a" stroke-width="1.0"/>
<circle cx="462.6" cy="240.8" r="2.2" fill="#8c86d2" stroke="#24223a" stroke-width="1.0"/>
<circle cx="462.6" cy="247.8" r="2.2" fill="#8c86d2" stroke="#24223a" stroke-width="1.0"/>
<circle cx="462.6" cy="256.5" r="2.2" fill="#8c86d2" stroke="#24223a" stroke-width="1.0"/>
<circle cx="456.5" cy="265.5" r="2.2" fill="#8c86d2" stroke="#24223a" stroke-width="1.0"/>
<circle cx="469.2" cy="269.2" r="2.2" fill="#8c86d2" stroke="#24223a" stroke-width="1.0"/>
<circle cx="459.5" cy="271.9" r="2.2" fill="#8c86d2" stroke="#24223a" stroke-width="1.0"/>
<circle cx="463.1" cy="270.8" r="2.2" fill="#8c86d2" stroke="#24223a" stroke-width="1.0"/>
<circle cx="457.4" cy="274.7" r="2.2" fill="#8c86d2" stroke="#24223a" stroke-width="1.0"/>
<circle cx="466.2" cy="273.8" r="2.2" fill="#8c86d2" stroke="#24223a" stroke-width="1.0"/>
<circle cx="467.7" cy="276.5" r="2.2" fill="#8c86d2" stroke="#24223a" stroke-width="1.0"/>
<circle cx="460.8" cy="278.4" r="2.2" fill="#8c86d2" stroke="#24223a" stroke-width="1.0"/>
<circle cx="464.6" cy="278.4" r="2.2" fill="#8c86d2" stroke="#24223a" stroke-width="1.0"/>
<circle cx="466.2" cy="283.8" r="2.2" fill="#8c86d2" stroke="#24223a" stroke-width="1.0"/>
<circle cx="459.5" cy="287.3" r="2.2" fill="#8c86d2" stroke="#24223a" stroke-width="1.0"/>
<circle cx="462.6" cy="296.8" r="2.2" fill="#8c86d2" stroke="#24223a" stroke-width="1.0"/>
<circle cx="459.5" cy="308.4" r="2.2" fill="#8c86d2" stroke="#24223a" stroke-width="1.0"/>
<circle cx="466.2" cy="308.4" r="2.2" fill="#8c86d2" stroke="#24223a" stroke-width="1.0"/>
<circle cx="492" cy="236.1" r="2.2" fill="#5aaee2" stroke="#12283a" stroke-width="1.0"/>
<circle cx="495.4" cy="246.8" r="2.2" fill="#5aaee2" stroke="#12283a" stroke-width="1.0"/>
<circle cx="488.9" cy="253.2" r="2.2" fill="#5aaee2" stroke="#12283a" stroke-width="1.0"/>
<circle cx="485.7" cy="258.1" r="2.2" fill="#5aaee2" stroke="#12283a" stroke-width="1.0"/>
<circle cx="498.5" cy="258.1" r="2.2" fill="#5aaee2" stroke="#12283a" stroke-width="1.0"/>
<circle cx="492" cy="261.9" r="2.2" fill="#5aaee2" stroke="#12283a" stroke-width="1.0"/>
<circle cx="484.6" cy="271.9" r="2.2" fill="#5aaee2" stroke="#12283a" stroke-width="1.0"/>
<circle cx="492" cy="269.9" r="2.2" fill="#5aaee2" stroke="#12283a" stroke-width="1.0"/>
<circle cx="489.7" cy="276.5" r="2.2" fill="#5aaee2" stroke="#12283a" stroke-width="1.0"/>
<circle cx="494.6" cy="278.4" r="2.2" fill="#5aaee2" stroke="#12283a" stroke-width="1.0"/>
<circle cx="499.7" cy="275.3" r="2.2" fill="#5aaee2" stroke="#12283a" stroke-width="1.0"/>
<circle cx="495.4" cy="287.3" r="2.2" fill="#5aaee2" stroke="#12283a" stroke-width="1.0"/>
<circle cx="488.9" cy="290.4" r="2.2" fill="#5aaee2" stroke="#12283a" stroke-width="1.0"/>
<line x1="463.1" y1="225.5" x2="491.8" y2="225.5" stroke="#3a3a3a" stroke-width="1.2"/>
<text class="t" x="477.45000000000005" y="222.3" font-size="8" text-anchor="middle" font-weight="normal" textLength="9" lengthAdjust="spacingAndGlyphs" fill="#1e1e1e">ns</text>
<text x="423.0" y="268.9" font-size="10" text-anchor="middle" font-weight="normal" textLength="64" lengthAdjust="spacingAndGlyphs" transform="rotate(-90 423.0 268.9)" fill="#1e1e1e" stroke="#1e1e1e" stroke-width="0.18">CD41<tspan dy="-3.3" font-size="7">+</tspan><tspan dy="3.3">CD63</tspan><tspan dy="-3.3" font-size="7">+</tspan><tspan dy="3.3"> (%)</tspan></text>
<text class="t" x="462.6" y="338.8" font-size="8.6" text-anchor="middle" font-weight="normal" textLength="25.8" lengthAdjust="spacingAndGlyphs" fill="#1e1e1e">n = 18</text>
<text class="t" x="492.0" y="338.8" font-size="8.6" text-anchor="middle" font-weight="normal" textLength="24.9" lengthAdjust="spacingAndGlyphs" fill="#1e1e1e">n = 13</text>
<text x="7.1" y="366.2" font-size="12" text-anchor="start" font-weight="bold" fill="#000" stroke="#000" stroke-width="0.35">H</text>
<text class="t" x="84.0" y="380.8" font-size="10" text-anchor="middle" font-weight="normal" textLength="31.8" lengthAdjust="spacingAndGlyphs" fill="#1e1e1e">Plasma</text>
<rect x="53.5" y="486.5" width="62.2" height="6.5" fill="#c9c9cf" stroke="#353535" stroke-width="1.1"/>
<rect x="54.1" y="487.5" width="61.0" height="4.2" fill="#e3e3e6"/>
<line x1="54.5" y1="489.6" x2="114.7" y2="489.6" stroke="#1a1a1a" stroke-width="1.1" stroke-dasharray="2.1 1.2"/>
<line x1="68.9" y1="441.9" x2="68.9" y2="464.5" stroke="#353535" stroke-width="1.1"/>
<line x1="68.9" y1="485.0" x2="68.9" y2="491.2" stroke="#353535" stroke-width="1.1"/>
<line x1="64.2" y1="441.9" x2="73.60000000000001" y2="441.9" stroke="#353535" stroke-width="1.1"/>
<rect x="58.8" y="464.5" width="20.400000000000006" height="20.5" fill="none" stroke="#353535" stroke-width="1.2"/>
<line x1="58.8" y1="471.9" x2="79.2" y2="471.9" stroke="#353535" stroke-width="1.2"/>
<line x1="98.3" y1="410.0" x2="98.3" y2="452.2" stroke="#353535" stroke-width="1.1"/>
<line x1="98.3" y1="480.8" x2="98.3" y2="492.7" stroke="#353535" stroke-width="1.1"/>
<line x1="93.6" y1="410.0" x2="103.0" y2="410.0" stroke="#353535" stroke-width="1.1"/>
<rect x="88.5" y="452.2" width="20.0" height="28.600000000000023" fill="none" stroke="#353535" stroke-width="1.2"/>
<line x1="88.5" y1="463.5" x2="108.5" y2="463.5" stroke="#353535" stroke-width="1.2"/>
<line x1="48.9" y1="398.6" x2="48.9" y2="433.3" stroke="#1e1e1e" stroke-width="1.5"/>
<line x1="48.9" y1="436.0" x2="48.9" y2="509.85" stroke="#1e1e1e" stroke-width="1.5"/>
<line x1="45.6" y1="433.3" x2="52.199999999999996" y2="433.3" stroke="#1e1e1e" stroke-width="1.1"/>
<line x1="45.6" y1="436.0" x2="52.199999999999996" y2="436.0" stroke="#1e1e1e" stroke-width="1.1"/>
<line x1="45.6" y1="509.25" x2="118.75" y2="509.25" stroke="#1e1e1e" stroke-width="1.5"/>
<line x1="45.6" y1="401.5" x2="48.9" y2="401.5" stroke="#1e1e1e" stroke-width="1.1"/>
<text class="t" x="42.6" y="404.8" font-size="9" text-anchor="end" font-weight="normal" textLength="8.8" lengthAdjust="spacingAndGlyphs" fill="#1e1e1e">45</text>
<line x1="45.6" y1="417.2" x2="48.9" y2="417.2" stroke="#1e1e1e" stroke-width="1.1"/>
<text class="t" x="42.6" y="420.5" font-size="9" text-anchor="end" font-weight="normal" textLength="8.8" lengthAdjust="spacingAndGlyphs" fill="#1e1e1e">30</text>
<line x1="45.6" y1="433.3" x2="48.9" y2="433.3" stroke="#1e1e1e" stroke-width="1.1"/>
<text class="t" x="42.6" y="436.6" font-size="9" text-anchor="end" font-weight="normal" textLength="8.2" lengthAdjust="spacingAndGlyphs" fill="#1e1e1e">15</text>
<line x1="45.6" y1="460.4" x2="48.9" y2="460.4" stroke="#1e1e1e" stroke-width="1.1"/>
<text class="t" x="42.6" y="463.7" font-size="9" text-anchor="end" font-weight="normal" textLength="8.8" lengthAdjust="spacingAndGlyphs" fill="#1e1e1e">10</text>
<line x1="45.6" y1="484.8" x2="48.9" y2="484.8" stroke="#1e1e1e" stroke-width="1.1"/>
<text class="t" x="42.6" y="488.1" font-size="9" text-anchor="end" font-weight="normal" textLength="4.6" lengthAdjust="spacingAndGlyphs" fill="#1e1e1e">5</text>
<text class="t" x="42.6" y="512.5" font-size="9" text-anchor="end" font-weight="normal" textLength="4.6" lengthAdjust="spacingAndGlyphs" fill="#1e1e1e">0</text>
<line x1="68.9" y1="509.25" x2="68.9" y2="512.05" stroke="#1e1e1e" stroke-width="1.0"/>
<line x1="98.3" y1="509.25" x2="98.3" y2="512.05" stroke="#1e1e1e" stroke-width="1.0"/>
<circle cx="62.8" cy="441.9" r="2.2" fill="#8c86d2" stroke="#24223a" stroke-width="1.0"/>
<circle cx="69.2" cy="445" r="2.2" fill="#8c86d2" stroke="#24223a" stroke-width="1.0"/>
<circle cx="75.7" cy="444.2" r="2.2" fill="#8c86d2" stroke="#24223a" stroke-width="1.0"/>
<circle cx="68.9" cy="453.5" r="2.2" fill="#8c86d2" stroke="#24223a" stroke-width="1.0"/>
<circle cx="61.2" cy="468.8" r="2.2" fill="#8c86d2" stroke="#24223a" stroke-width="1.0"/>
<circle cx="66.5" cy="470.7" r="2.2" fill="#8c86d2" stroke="#24223a" stroke-width="1.0"/>
<circle cx="71.5" cy="469.2" r="2.2" fill="#8c86d2" stroke="#24223a" stroke-width="1.0"/>
<circle cx="76.6" cy="468.5" r="2.2" fill="#8c86d2" stroke="#24223a" stroke-width="1.0"/>
<circle cx="62.3" cy="474.7" r="2.2" fill="#8c86d2" stroke="#24223a" stroke-width="1.0"/>
<circle cx="65.8" cy="475.8" r="2.2" fill="#8c86d2" stroke="#24223a" stroke-width="1.0"/>
<circle cx="72.3" cy="475.8" r="2.2" fill="#8c86d2" stroke="#24223a" stroke-width="1.0"/>
<circle cx="76.2" cy="472.7" r="2.2" fill="#8c86d2" stroke="#24223a" stroke-width="1.0"/>
<circle cx="69.2" cy="478.1" r="2.2" fill="#8c86d2" stroke="#24223a" stroke-width="1.0"/>
<circle cx="62.3" cy="485" r="2.2" fill="#8c86d2" stroke="#24223a" stroke-width="1.0"/>
<circle cx="75.7" cy="485" r="2.2" fill="#8c86d2" stroke="#24223a" stroke-width="1.0"/>
<circle cx="65.8" cy="488.1" r="2.2" fill="#8c86d2" stroke="#24223a" stroke-width="1.0"/>
<circle cx="72.3" cy="489.6" r="2.2" fill="#8c86d2" stroke="#24223a" stroke-width="1.0"/>
<circle cx="69.2" cy="491.2" r="2.2" fill="#8c86d2" stroke="#24223a" stroke-width="1.0"/>
<circle cx="98.5" cy="410" r="2.2" fill="#5aaee2" stroke="#12283a" stroke-width="1.0"/>
<circle cx="98.5" cy="436.5" r="2.2" fill="#5aaee2" stroke="#12283a" stroke-width="1.0"/>
<circle cx="98.2" cy="447.3" r="2.2" fill="#5aaee2" stroke="#12283a" stroke-width="1.0"/>
<circle cx="92" cy="452.2" r="2.2" fill="#5aaee2" stroke="#12283a" stroke-width="1.0"/>
<circle cx="98.2" cy="454.2" r="2.2" fill="#5aaee2" stroke="#12283a" stroke-width="1.0"/>
<circle cx="104.6" cy="452.2" r="2.2" fill="#5aaee2" stroke="#12283a" stroke-width="1.0"/>
<circle cx="92" cy="459.6" r="2.2" fill="#5aaee2" stroke="#12283a" stroke-width="1.0"/>
<circle cx="104.6" cy="459.3" r="2.2" fill="#5aaee2" stroke="#12283a" stroke-width="1.0"/>
<circle cx="98.2" cy="463.5" r="2.2" fill="#5aaee2" stroke="#12283a" stroke-width="1.0"/>
<circle cx="92" cy="474.2" r="2.2" fill="#5aaee2" stroke="#12283a" stroke-width="1.0"/>
<circle cx="104.6" cy="477.3" r="2.2" fill="#5aaee2" stroke="#12283a" stroke-width="1.0"/>
<circle cx="98.2" cy="478.8" r="2.2" fill="#5aaee2" stroke="#12283a" stroke-width="1.0"/>
<circle cx="90.8" cy="479.6" r="2.2" fill="#5aaee2" stroke="#12283a" stroke-width="1.0"/>
<circle cx="95.7" cy="483.9" r="2.2" fill="#5aaee2" stroke="#12283a" stroke-width="1.0"/>
<circle cx="100.8" cy="485.5" r="2.2" fill="#5aaee2" stroke="#12283a" stroke-width="1.0"/>
<circle cx="105.8" cy="483" r="2.2" fill="#5aaee2" stroke="#12283a" stroke-width="1.0"/>
<circle cx="98.2" cy="492.7" r="2.2" fill="#5aaee2" stroke="#12283a" stroke-width="1.0"/>
<line x1="69.2" y1="402.6" x2="98.8" y2="402.6" stroke="#3a3a3a" stroke-width="1.2"/>
<text class="t" x="84.0" y="399.40000000000003" font-size="8" text-anchor="middle" font-weight="normal" textLength="9" lengthAdjust="spacingAndGlyphs" fill="#1e1e1e">ns</text>
<text x="28.6" y="453.5" font-size="10" text-anchor="middle" font-weight="normal" textLength="46.5" lengthAdjust="spacingAndGlyphs" transform="rotate(-90 28.6 453.5)" fill="#1e1e1e" stroke="#1e1e1e" stroke-width="0.18">TXB<tspan dy="2.5" font-size="6.5">2</tspan><tspan dy="-2.5"> (ng/mL)</tspan></text>
<text class="t" x="69.0" y="522.5999999999999" font-size="8.6" text-anchor="middle" font-weight="normal" textLength="25.8" lengthAdjust="spacingAndGlyphs" fill="#1e1e1e">n = 18</text>
<text class="t" x="98.3" y="522.5999999999999" font-size="8.6" text-anchor="middle" font-weight="normal" textLength="24.9" lengthAdjust="spacingAndGlyphs" fill="#1e1e1e">n = 17</text>
<text x="137.25" y="366.2" font-size="12" text-anchor="start" font-weight="bold" fill="#000" stroke="#000" stroke-width="0.35">I</text>
<text class="t" x="213.75" y="380.8" font-size="10" text-anchor="middle" font-weight="normal" textLength="76.0" lengthAdjust="spacingAndGlyphs" fill="#1e1e1e">Tracheal aspirate</text>
<line x1="200.7" y1="469.2" x2="200.7" y2="480.8" stroke="#353535" stroke-width="1.1"/>
<line x1="200.7" y1="507.4" x2="200.7" y2="509.0" stroke="#353535" stroke-width="1.1"/>
<line x1="196.0" y1="469.2" x2="205.39999999999998" y2="469.2" stroke="#353535" stroke-width="1.1"/>
<rect x="190.4" y="480.8" width="20.299999999999983" height="26.599999999999966" fill="none" stroke="#353535" stroke-width="1.2"/>
<line x1="190.4" y1="501.5" x2="210.7" y2="501.5" stroke="#353535" stroke-width="1.2"/>
<line x1="227.0" y1="403.5" x2="227.0" y2="422.7" stroke="#353535" stroke-width="1.1"/>
<line x1="227.0" y1="497.2" x2="227.0" y2="508.9" stroke="#353535" stroke-width="1.1"/>
<line x1="222.3" y1="403.5" x2="231.7" y2="403.5" stroke="#353535" stroke-width="1.1"/>
<rect x="217.0" y="422.7" width="20.0" height="74.5" fill="none" stroke="#353535" stroke-width="1.2"/>
<line x1="217.0" y1="478.9" x2="237.0" y2="478.9" stroke="#353535" stroke-width="1.2"/>
<rect x="216.0" y="452.6" width="22.0" height="4.599999999999966" fill="#fff"/>
<line x1="180.1" y1="400.2" x2="180.1" y2="453.5" stroke="#1e1e1e" stroke-width="1.5"/>
<line x1="180.1" y1="456.5" x2="180.1" y2="509.8" stroke="#1e1e1e" stroke-width="1.5"/>
<line x1="176.79999999999998" y1="453.5" x2="183.4" y2="453.5" stroke="#1e1e1e" stroke-width="1.1"/>
<line x1="176.79999999999998" y1="456.5" x2="183.4" y2="456.5" stroke="#1e1e1e" stroke-width="1.1"/>
<line x1="176.79999999999998" y1="509.2" x2="247.9" y2="509.2" stroke="#1e1e1e" stroke-width="1.5"/>
<line x1="176.79999999999998" y1="402.7" x2="180.1" y2="402.7" stroke="#1e1e1e" stroke-width="1.1"/>
<text class="t" x="173.79999999999998" y="406.0" font-size="9" text-anchor="end" font-weight="normal" textLength="8.6" lengthAdjust="spacingAndGlyphs" fill="#1e1e1e">16</text>
<line x1="176.79999999999998" y1="428.1" x2="180.1" y2="428.1" stroke="#1e1e1e" stroke-width="1.1"/>
<text class="t" x="173.79999999999998" y="431.40000000000003" font-size="9" text-anchor="end" font-weight="normal" textLength="8.8" lengthAdjust="spacingAndGlyphs" fill="#1e1e1e">10</text>
<line x1="176.79999999999998" y1="454.2" x2="180.1" y2="454.2" stroke="#1e1e1e" stroke-width="1.1"/>
<text class="t" x="173.79999999999998" y="457.5" font-size="9" text-anchor="end" font-weight="normal" textLength="4.6" lengthAdjust="spacingAndGlyphs" fill="#1e1e1e">4</text>
<line x1="176.79999999999998" y1="482.8" x2="180.1" y2="482.8" stroke="#1e1e1e" stroke-width="1.1"/>
<text class="t" x="173.79999999999998" y="486.1" font-size="9" text-anchor="end" font-weight="normal" textLength="4.6" lengthAdjust="spacingAndGlyphs" fill="#1e1e1e">2</text>
<text class="t" x="173.79999999999998" y="512.1999999999999" font-size="9" text-anchor="end" font-weight="normal" textLength="4.6" lengthAdjust="spacingAndGlyphs" fill="#1e1e1e">0</text>
<line x1="200.7" y1="509.2" x2="200.7" y2="512.0" stroke="#1e1e1e" stroke-width="1.0"/>
<line x1="227.0" y1="509.2" x2="227.0" y2="512.0" stroke="#1e1e1e" stroke-width="1.0"/>
<circle cx="200.7" cy="469.2" r="2.2" fill="#8c86d2" stroke="#24223a" stroke-width="1.0"/>
<circle cx="200.7" cy="481.5" r="2.2" fill="#8c86d2" stroke="#24223a" stroke-width="1.0"/>
<circle cx="193.9" cy="501.5" r="2.2" fill="#8c86d2" stroke="#24223a" stroke-width="1.0"/>
<circle cx="200.7" cy="502" r="2.2" fill="#8c86d2" stroke="#24223a" stroke-width="1.0"/>
<circle cx="207.3" cy="498.5" r="2.2" fill="#8c86d2" stroke="#24223a" stroke-width="1.0"/>
<circle cx="197.3" cy="509.2" r="2.2" fill="#8c86d2" stroke="#24223a" stroke-width="1.0"/>
<circle cx="204.2" cy="507.7" r="2.2" fill="#8c86d2" stroke="#24223a" stroke-width="1.0"/>
<circle cx="227" cy="403.5" r="2.2" fill="#5aaee2" stroke="#12283a" stroke-width="1.0"/>
<circle cx="220.7" cy="422.7" r="2.2" fill="#5aaee2" stroke="#12283a" stroke-width="1.0"/>
<circle cx="227" cy="423" r="2.2" fill="#5aaee2" stroke="#12283a" stroke-width="1.0"/>
<circle cx="233.8" cy="421.5" r="2.2" fill="#5aaee2" stroke="#12283a" stroke-width="1.0"/>
<circle cx="227" cy="433.2" r="2.2" fill="#5aaee2" stroke="#12283a" stroke-width="1.0"/>
<circle cx="227.3" cy="476.9" r="2.2" fill="#5aaee2" stroke="#12283a" stroke-width="1.0"/>
<circle cx="230.7" cy="481.5" r="2.2" fill="#5aaee2" stroke="#12283a" stroke-width="1.0"/>
<circle cx="223.9" cy="485.4" r="2.2" fill="#5aaee2" stroke="#12283a" stroke-width="1.0"/>
<circle cx="220.7" cy="498.5" r="2.2" fill="#5aaee2" stroke="#12283a" stroke-width="1.0"/>
<circle cx="227" cy="499.5" r="2.2" fill="#5aaee2" stroke="#12283a" stroke-width="1.0"/>
<circle cx="233.8" cy="495.1" r="2.2" fill="#5aaee2" stroke="#12283a" stroke-width="1.0"/>
<circle cx="227" cy="508.9" r="2.2" fill="#5aaee2" stroke="#12283a" stroke-width="1.0"/>
<line x1="200.5" y1="395.5" x2="227.0" y2="395.5" stroke="#3a3a3a" stroke-width="1.2"/>
<circle cx="213.95" cy="391.7" r="1.15" fill="#2a2a2a"/>
<text x="160.0" y="453.9" font-size="10.6" text-anchor="middle" font-weight="normal" textLength="85.8" lengthAdjust="spacingAndGlyphs" transform="rotate(-90 160.0 453.9)" fill="#1e1e1e" stroke="#1e1e1e" stroke-width="0.18">PDGF (ng/mg of protein)</text>
<text class="t" x="200.7" y="522.5999999999999" font-size="8.6" text-anchor="middle" font-weight="normal" textLength="20.5" lengthAdjust="spacingAndGlyphs" fill="#1e1e1e">n = 7</text>
<text class="t" x="227.0" y="522.5999999999999" font-size="8.6" text-anchor="middle" font-weight="normal" textLength="24.2" lengthAdjust="spacingAndGlyphs" fill="#1e1e1e">n = 12</text>
<text x="268.8" y="366.2" font-size="12" text-anchor="start" font-weight="bold" fill="#000" stroke="#000" stroke-width="0.35">J</text>
<text class="t" x="344.75" y="380.8" font-size="10" text-anchor="middle" font-weight="normal" textLength="50.4" lengthAdjust="spacingAndGlyphs" fill="#1e1e1e">Monocytes</text>
<rect x="313.5" y="473.4" width="64.19999999999999" height="12.0" fill="#c9c9cf" stroke="#353535" stroke-width="1.1"/>
<rect x="314.1" y="481.1" width="62.999999999999986" height="3.0" fill="#e3e3e6"/>
<line x1="314.5" y1="482.6" x2="376.7" y2="482.6" stroke="#1a1a1a" stroke-width="1.1" stroke-dasharray="2.1 1.2"/>
<line x1="329.7" y1="405.5" x2="329.7" y2="420.7" stroke="#353535" stroke-width="1.1"/>
<line x1="329.7" y1="465.8" x2="329.7" y2="486.5" stroke="#353535" stroke-width="1.1"/>
<line x1="325.0" y1="405.5" x2="334.4" y2="405.5" stroke="#353535" stroke-width="1.1"/>
<line x1="325.0" y1="486.5" x2="334.4" y2="486.5" stroke="#353535" stroke-width="1.1"/>
<rect x="319.5" y="420.7" width="20.19999999999999" height="45.10000000000002" fill="none" stroke="#353535" stroke-width="1.2"/>
<line x1="319.5" y1="447.6" x2="339.7" y2="447.6" stroke="#353535" stroke-width="1.2"/>
<line x1="359.5" y1="410.4" x2="359.5" y2="440.8" stroke="#353535" stroke-width="1.1"/>
<line x1="359.5" y1="477.4" x2="359.5" y2="494.6" stroke="#353535" stroke-width="1.1"/>
<line x1="354.8" y1="410.4" x2="364.2" y2="410.4" stroke="#353535" stroke-width="1.1"/>
<rect x="349.5" y="440.8" width="20.0" height="36.599999999999966" fill="none" stroke="#353535" stroke-width="1.2"/>
<line x1="349.5" y1="461.7" x2="369.5" y2="461.7" stroke="#353535" stroke-width="1.2"/>
<line x1="309.6" y1="398.5" x2="309.6" y2="509.90000000000003" stroke="#1e1e1e" stroke-width="1.5"/>
<line x1="306.3" y1="509.3" x2="379.9" y2="509.3" stroke="#1e1e1e" stroke-width="1.5"/>
<line x1="306.3" y1="401.2" x2="309.6" y2="401.2" stroke="#1e1e1e" stroke-width="1.1"/>
<text class="t" x="303.3" y="404.5" font-size="9" text-anchor="end" font-weight="normal" textLength="8.8" lengthAdjust="spacingAndGlyphs" fill="#1e1e1e">60</text>
<line x1="306.3" y1="436.8" x2="309.6" y2="436.8" stroke="#1e1e1e" stroke-width="1.1"/>
<text class="t" x="303.3" y="440.1" font-size="9" text-anchor="end" font-weight="normal" textLength="8.8" lengthAdjust="spacingAndGlyphs" fill="#1e1e1e">40</text>
<line x1="306.3" y1="473.4" x2="309.6" y2="473.4" stroke="#1e1e1e" stroke-width="1.1"/>
<text class="t" x="303.3" y="476.7" font-size="9" text-anchor="end" font-weight="normal" textLength="8.8" lengthAdjust="spacingAndGlyphs" fill="#1e1e1e">20</text>
<text class="t" x="303.3" y="512.1999999999999" font-size="9" text-anchor="end" font-weight="normal" textLength="4.6" lengthAdjust="spacingAndGlyphs" fill="#1e1e1e">0</text>
<line x1="329.7" y1="509.3" x2="329.7" y2="512.1" stroke="#1e1e1e" stroke-width="1.0"/>
<line x1="359.5" y1="509.3" x2="359.5" y2="512.1" stroke="#1e1e1e" stroke-width="1.0"/>
<circle cx="322.3" cy="406.5" r="2.2" fill="#8c86d2" stroke="#24223a" stroke-width="1.0"/>
<circle cx="327.4" cy="410.4" r="2.2" fill="#8c86d2" stroke="#24223a" stroke-width="1.0"/>
<circle cx="332.3" cy="409.2" r="2.2" fill="#8c86d2" stroke="#24223a" stroke-width="1.0"/>
<circle cx="337.4" cy="405.8" r="2.2" fill="#8c86d2" stroke="#24223a" stroke-width="1.0"/>
<circle cx="329.7" cy="424.2" r="2.2" fill="#8c86d2" stroke="#24223a" stroke-width="1.0"/>
<circle cx="333.1" cy="431.6" r="2.2" fill="#8c86d2" stroke="#24223a" stroke-width="1.0"/>
<circle cx="323.4" cy="436.5" r="2.2" fill="#8c86d2" stroke="#24223a" stroke-width="1.0"/>
<circle cx="326.5" cy="439.3" r="2.2" fill="#8c86d2" stroke="#24223a" stroke-width="1.0"/>
<circle cx="333.1" cy="444.2" r="2.2" fill="#8c86d2" stroke="#24223a" stroke-width="1.0"/>
<circle cx="329.7" cy="450.7" r="2.2" fill="#8c86d2" stroke="#24223a" stroke-width="1.0"/>
<circle cx="326.5" cy="458.5" r="2.2" fill="#8c86d2" stroke="#24223a" stroke-width="1.0"/>
<circle cx="333.1" cy="459.5" r="2.2" fill="#8c86d2" stroke="#24223a" stroke-width="1.0"/>
<circle cx="323.4" cy="464.9" r="2.2" fill="#8c86d2" stroke="#24223a" stroke-width="1.0"/>
<circle cx="336.5" cy="464.9" r="2.2" fill="#8c86d2" stroke="#24223a" stroke-width="1.0"/>
<circle cx="329.7" cy="469.5" r="2.2" fill="#8c86d2" stroke="#24223a" stroke-width="1.0"/>
<circle cx="326.5" cy="474.3" r="2.2" fill="#8c86d2" stroke="#24223a" stroke-width="1.0"/>
<circle cx="333.1" cy="478.8" r="2.2" fill="#8c86d2" stroke="#24223a" stroke-width="1.0"/>
<circle cx="329.7" cy="486.5" r="2.2" fill="#8c86d2" stroke="#24223a" stroke-width="1.0"/>
<circle cx="359.5" cy="410.4" r="2.2" fill="#5aaee2" stroke="#12283a" stroke-width="1.0"/>
<circle cx="359.5" cy="418.1" r="2.2" fill="#5aaee2" stroke="#12283a" stroke-width="1.0"/>
<circle cx="352.6" cy="440.8" r="2.2" fill="#5aaee2" stroke="#12283a" stroke-width="1.0"/>
<circle cx="359.2" cy="441.2" r="2.2" fill="#5aaee2" stroke="#12283a" stroke-width="1.0"/>
<circle cx="365.8" cy="439.9" r="2.2" fill="#5aaee2" stroke="#12283a" stroke-width="1.0"/>
<circle cx="356.2" cy="452.1" r="2.2" fill="#5aaee2" stroke="#12283a" stroke-width="1.0"/>
<circle cx="362.3" cy="451.7" r="2.2" fill="#5aaee2" stroke="#12283a" stroke-width="1.0"/>
<circle cx="352.6" cy="461.7" r="2.2" fill="#5aaee2" stroke="#12283a" stroke-width="1.0"/>
<circle cx="365.8" cy="461.2" r="2.2" fill="#5aaee2" stroke="#12283a" stroke-width="1.0"/>
<circle cx="359.2" cy="466.6" r="2.2" fill="#5aaee2" stroke="#12283a" stroke-width="1.0"/>
<circle cx="362.3" cy="470.5" r="2.2" fill="#5aaee2" stroke="#12283a" stroke-width="1.0"/>
<circle cx="356.2" cy="473.4" r="2.2" fill="#5aaee2" stroke="#12283a" stroke-width="1.0"/>
<circle cx="365.8" cy="474.6" r="2.2" fill="#5aaee2" stroke="#12283a" stroke-width="1.0"/>
<circle cx="352.6" cy="480.8" r="2.2" fill="#5aaee2" stroke="#12283a" stroke-width="1.0"/>
<circle cx="359.2" cy="481.1" r="2.2" fill="#5aaee2" stroke="#12283a" stroke-width="1.0"/>
<circle cx="362.3" cy="491.2" r="2.2" fill="#5aaee2" stroke="#12283a" stroke-width="1.0"/>
<circle cx="356.2" cy="494.6" r="2.2" fill="#5aaee2" stroke="#12283a" stroke-width="1.0"/>
<line x1="330.0" y1="394.5" x2="358.75" y2="394.5" stroke="#3a3a3a" stroke-width="1.2"/>
<text class="t" x="344.375" y="391.3" font-size="8" text-anchor="middle" font-weight="normal" textLength="9" lengthAdjust="spacingAndGlyphs" fill="#1e1e1e">ns</text>
<text x="290.0" y="453.9" font-size="10" text-anchor="middle" font-weight="normal" textLength="64.8" lengthAdjust="spacingAndGlyphs" transform="rotate(-90 290.0 453.9)" fill="#1e1e1e" stroke="#1e1e1e" stroke-width="0.18">CD14<tspan dy="-3.3" font-size="7">+</tspan><tspan dy="3.3">CD41</tspan><tspan dy="-3.3" font-size="7">+</tspan><tspan dy="3.3"> (%)</tspan></text>
<text class="t" x="329.7" y="522.5999999999999" font-size="8.6" text-anchor="middle" font-weight="normal" textLength="25.8" lengthAdjust="spacingAndGlyphs" fill="#1e1e1e">n = 18</text>
<text class="t" x="359.5" y="522.5999999999999" font-size="8.6" text-anchor="middle" font-weight="normal" textLength="24.9" lengthAdjust="spacingAndGlyphs" fill="#1e1e1e">n = 17</text>
<text x="398.35" y="366.2" font-size="12" text-anchor="start" font-weight="bold" fill="#000" stroke="#000" stroke-width="0.35">K</text>
<text class="t" x="477.9" y="380.8" font-size="10" text-anchor="middle" font-weight="normal" textLength="50.4" lengthAdjust="spacingAndGlyphs" fill="#1e1e1e">Monocytes</text>
<rect x="445.5" y="500.4" width="64.39999999999998" height="7.7000000000000455" fill="#c9c9cf" stroke="#353535" stroke-width="1.1"/>
<rect x="446.1" y="503.0" width="63.199999999999974" height="3.4" fill="#e3e3e6"/>
<line x1="446.5" y1="504.7" x2="508.9" y2="504.7" stroke="#1a1a1a" stroke-width="1.1" stroke-dasharray="2.1 1.2"/>
<line x1="462.7" y1="458.9" x2="462.7" y2="487.3" stroke="#353535" stroke-width="1.1"/>
<line x1="462.7" y1="501.5" x2="462.7" y2="508.1" stroke="#353535" stroke-width="1.1"/>
<line x1="458.0" y1="458.9" x2="467.4" y2="458.9" stroke="#353535" stroke-width="1.1"/>
<rect x="452.4" y="487.3" width="20.600000000000023" height="14.199999999999989" fill="none" stroke="#353535" stroke-width="1.2"/>
<line x1="452.4" y1="496.5" x2="473.0" y2="496.5" stroke="#353535" stroke-width="1.2"/>
<line x1="492.2" y1="402.8" x2="492.2" y2="471.2" stroke="#353535" stroke-width="1.1"/>
<line x1="492.2" y1="497.3" x2="492.2" y2="505.3" stroke="#353535" stroke-width="1.1"/>
<line x1="487.5" y1="402.8" x2="496.9" y2="402.8" stroke="#353535" stroke-width="1.1"/>
<rect x="482.4" y="471.2" width="19.80000000000001" height="26.100000000000023" fill="none" stroke="#353535" stroke-width="1.2"/>
<line x1="482.4" y1="487.3" x2="502.2" y2="487.3" stroke="#353535" stroke-width="1.2"/>
<line x1="442.7" y1="398.8" x2="442.7" y2="509.8" stroke="#1e1e1e" stroke-width="1.5"/>
<line x1="439.4" y1="509.2" x2="512.8" y2="509.2" stroke="#1e1e1e" stroke-width="1.5"/>
<line x1="439.4" y1="402.3" x2="442.7" y2="402.3" stroke="#1e1e1e" stroke-width="1.1"/>
<text class="t" x="436.4" y="405.6" font-size="9" text-anchor="end" font-weight="normal" textLength="8.8" lengthAdjust="spacingAndGlyphs" fill="#1e1e1e">60</text>
<line x1="439.4" y1="437.7" x2="442.7" y2="437.7" stroke="#1e1e1e" stroke-width="1.1"/>
<text class="t" x="436.4" y="441.0" font-size="9" text-anchor="end" font-weight="normal" textLength="8.8" lengthAdjust="spacingAndGlyphs" fill="#1e1e1e">40</text>
<line x1="439.4" y1="473.5" x2="442.7" y2="473.5" stroke="#1e1e1e" stroke-width="1.1"/>
<text class="t" x="436.4" y="476.8" font-size="9" text-anchor="end" font-weight="normal" textLength="8.8" lengthAdjust="spacingAndGlyphs" fill="#1e1e1e">20</text>
<text class="t" x="436.4" y="512.5" font-size="9" text-anchor="end" font-weight="normal" textLength="4.6" lengthAdjust="spacingAndGlyphs" fill="#1e1e1e">0</text>
<line x1="462.7" y1="509.2" x2="462.7" y2="512.0" stroke="#1e1e1e" stroke-width="1.0"/>
<line x1="492.2" y1="509.2" x2="492.2" y2="512.0" stroke="#1e1e1e" stroke-width="1.0"/>
<circle cx="462.7" cy="458.9" r="2.2" fill="#8c86d2" stroke="#24223a" stroke-width="1.0"/>
<circle cx="459.6" cy="479.9" r="2.2" fill="#8c86d2" stroke="#24223a" stroke-width="1.0"/>
<circle cx="466.2" cy="482.7" r="2.2" fill="#8c86d2" stroke="#24223a" stroke-width="1.0"/>
<circle cx="455.8" cy="487.3" r="2.2" fill="#8c86d2" stroke="#24223a" stroke-width="1.0"/>
<circle cx="470.1" cy="487.8" r="2.2" fill="#8c86d2" stroke="#24223a" stroke-width="1.0"/>
<circle cx="459.3" cy="490.4" r="2.2" fill="#8c86d2" stroke="#24223a" stroke-width="1.0"/>
<circle cx="466.5" cy="491.9" r="2.2" fill="#8c86d2" stroke="#24223a" stroke-width="1.0"/>
<circle cx="462.7" cy="493.2" r="2.2" fill="#8c86d2" stroke="#24223a" stroke-width="1.0"/>
<circle cx="458.1" cy="496.5" r="2.2" fill="#8c86d2" stroke="#24223a" stroke-width="1.0"/>
<circle cx="466.5" cy="496.2" r="2.2" fill="#8c86d2" stroke="#24223a" stroke-width="1.0"/>
<circle cx="456.5" cy="497.3" r="2.2" fill="#8c86d2" stroke="#24223a" stroke-width="1.0"/>
<circle cx="469.6" cy="498.4" r="2.2" fill="#8c86d2" stroke="#24223a" stroke-width="1.0"/>
<circle cx="460.8" cy="500.4" r="2.2" fill="#8c86d2" stroke="#24223a" stroke-width="1.0"/>
<circle cx="464.5" cy="500.8" r="2.2" fill="#8c86d2" stroke="#24223a" stroke-width="1.0"/>
<circle cx="455.5" cy="505.3" r="2.2" fill="#8c86d2" stroke="#24223a" stroke-width="1.0"/>
<circle cx="465.5" cy="505.3" r="2.2" fill="#8c86d2" stroke="#24223a" stroke-width="1.0"/>
<circle cx="470.4" cy="505.3" r="2.2" fill="#8c86d2" stroke="#24223a" stroke-width="1.0"/>
<circle cx="460.4" cy="508.1" r="2.2" fill="#8c86d2" stroke="#24223a" stroke-width="1.0"/>
<circle cx="492.2" cy="402.8" r="2.2" fill="#5aaee2" stroke="#12283a" stroke-width="1.0"/>
<circle cx="492.2" cy="443.8" r="2.2" fill="#5aaee2" stroke="#12283a" stroke-width="1.0"/>
<circle cx="485.8" cy="466.3" r="2.2" fill="#5aaee2" stroke="#12283a" stroke-width="1.0"/>
<circle cx="492.2" cy="471.9" r="2.2" fill="#5aaee2" stroke="#12283a" stroke-width="1.0"/>
<circle cx="498.4" cy="471.2" r="2.2" fill="#5aaee2" stroke="#12283a" stroke-width="1.0"/>
<circle cx="488.8" cy="477.3" r="2.2" fill="#5aaee2" stroke="#12283a" stroke-width="1.0"/>
<circle cx="485.8" cy="481.9" r="2.2" fill="#5aaee2" stroke="#12283a" stroke-width="1.0"/>
<circle cx="495.3" cy="481.2" r="2.2" fill="#5aaee2" stroke="#12283a" stroke-width="1.0"/>
<circle cx="492.2" cy="488.1" r="2.2" fill="#5aaee2" stroke="#12283a" stroke-width="1.0"/>
<circle cx="501.6" cy="487.6" r="2.2" fill="#5aaee2" stroke="#12283a" stroke-width="1.0"/>
<circle cx="498.4" cy="491.5" r="2.2" fill="#5aaee2" stroke="#12283a" stroke-width="1.0"/>
<circle cx="485.8" cy="494.2" r="2.2" fill="#5aaee2" stroke="#12283a" stroke-width="1.0"/>
<circle cx="492.2" cy="495.3" r="2.2" fill="#5aaee2" stroke="#12283a" stroke-width="1.0"/>
<circle cx="484.5" cy="499.6" r="2.2" fill="#5aaee2" stroke="#12283a" stroke-width="1.0"/>
<circle cx="499.6" cy="499.3" r="2.2" fill="#5aaee2" stroke="#12283a" stroke-width="1.0"/>
<circle cx="494.7" cy="502.4" r="2.2" fill="#5aaee2" stroke="#12283a" stroke-width="1.0"/>
<circle cx="489.6" cy="505.3" r="2.2" fill="#5aaee2" stroke="#12283a" stroke-width="1.0"/>
<line x1="463.0" y1="394.5" x2="492.0" y2="394.5" stroke="#3a3a3a" stroke-width="1.2"/>
<circle cx="477.7" cy="390.7" r="1.15" fill="#2a2a2a"/>
<text x="423.3" y="453.1" font-size="10" text-anchor="middle" font-weight="normal" textLength="50.2" lengthAdjust="spacingAndGlyphs" transform="rotate(-90 423.3 453.1)" fill="#1e1e1e" stroke="#1e1e1e" stroke-width="0.18">CD14<tspan dy="-3.3" font-size="7">+</tspan><tspan dy="3.3">TF</tspan><tspan dy="-3.3" font-size="7">+</tspan><tspan dy="3.3"> (%)</tspan></text>
<text class="t" x="462.7" y="522.8" font-size="8.6" text-anchor="middle" font-weight="normal" textLength="25.8" lengthAdjust="spacingAndGlyphs" fill="#1e1e1e">n = 18</text>
<text class="t" x="492.2" y="522.8" font-size="8.6" text-anchor="middle" font-weight="normal" textLength="24.9" lengthAdjust="spacingAndGlyphs" fill="#1e1e1e">n = 17</text>
<circle cx="401.9" cy="82.0" r="2.0" fill="#5b6475" stroke="#1c1c22" stroke-width="0.9"/>
<text class="t" x="406.9" y="84.6" font-size="7.9" text-anchor="start" font-weight="normal" textLength="72.1" lengthAdjust="spacingAndGlyphs" fill="#1e1e1e">O<tspan dy="2" font-size="6">2</tspan><tspan dy="-2"> Supplementation</tspan></text>
<circle cx="401.9" cy="92.2" r="2.0" fill="#cc1138" stroke="#2a0a10" stroke-width="0.9"/>
<text class="t" x="406.9" y="94.8" font-size="7.9" text-anchor="start" font-weight="normal" textLength="78.1" lengthAdjust="spacingAndGlyphs" fill="#1e1e1e">Mechanical ventilation</text>
<circle cx="401.9" cy="102.4" r="2.0" fill="#8c86d2" stroke="#24223a" stroke-width="0.9"/>
<text class="t" x="406.9" y="105.0" font-size="7.9" text-anchor="start" font-weight="normal" textLength="31.4" lengthAdjust="spacingAndGlyphs" fill="#1e1e1e">Survivors</text>
<circle cx="401.9" cy="112.8" r="2.0" fill="#5aaee2" stroke="#12283a" stroke-width="0.9"/>
<text class="t" x="406.9" y="115.39999999999999" font-size="7.9" text-anchor="start" font-weight="normal" textLength="45.8" lengthAdjust="spacingAndGlyphs" fill="#1e1e1e">Nonsurvivors</text>
</svg></body></html>
